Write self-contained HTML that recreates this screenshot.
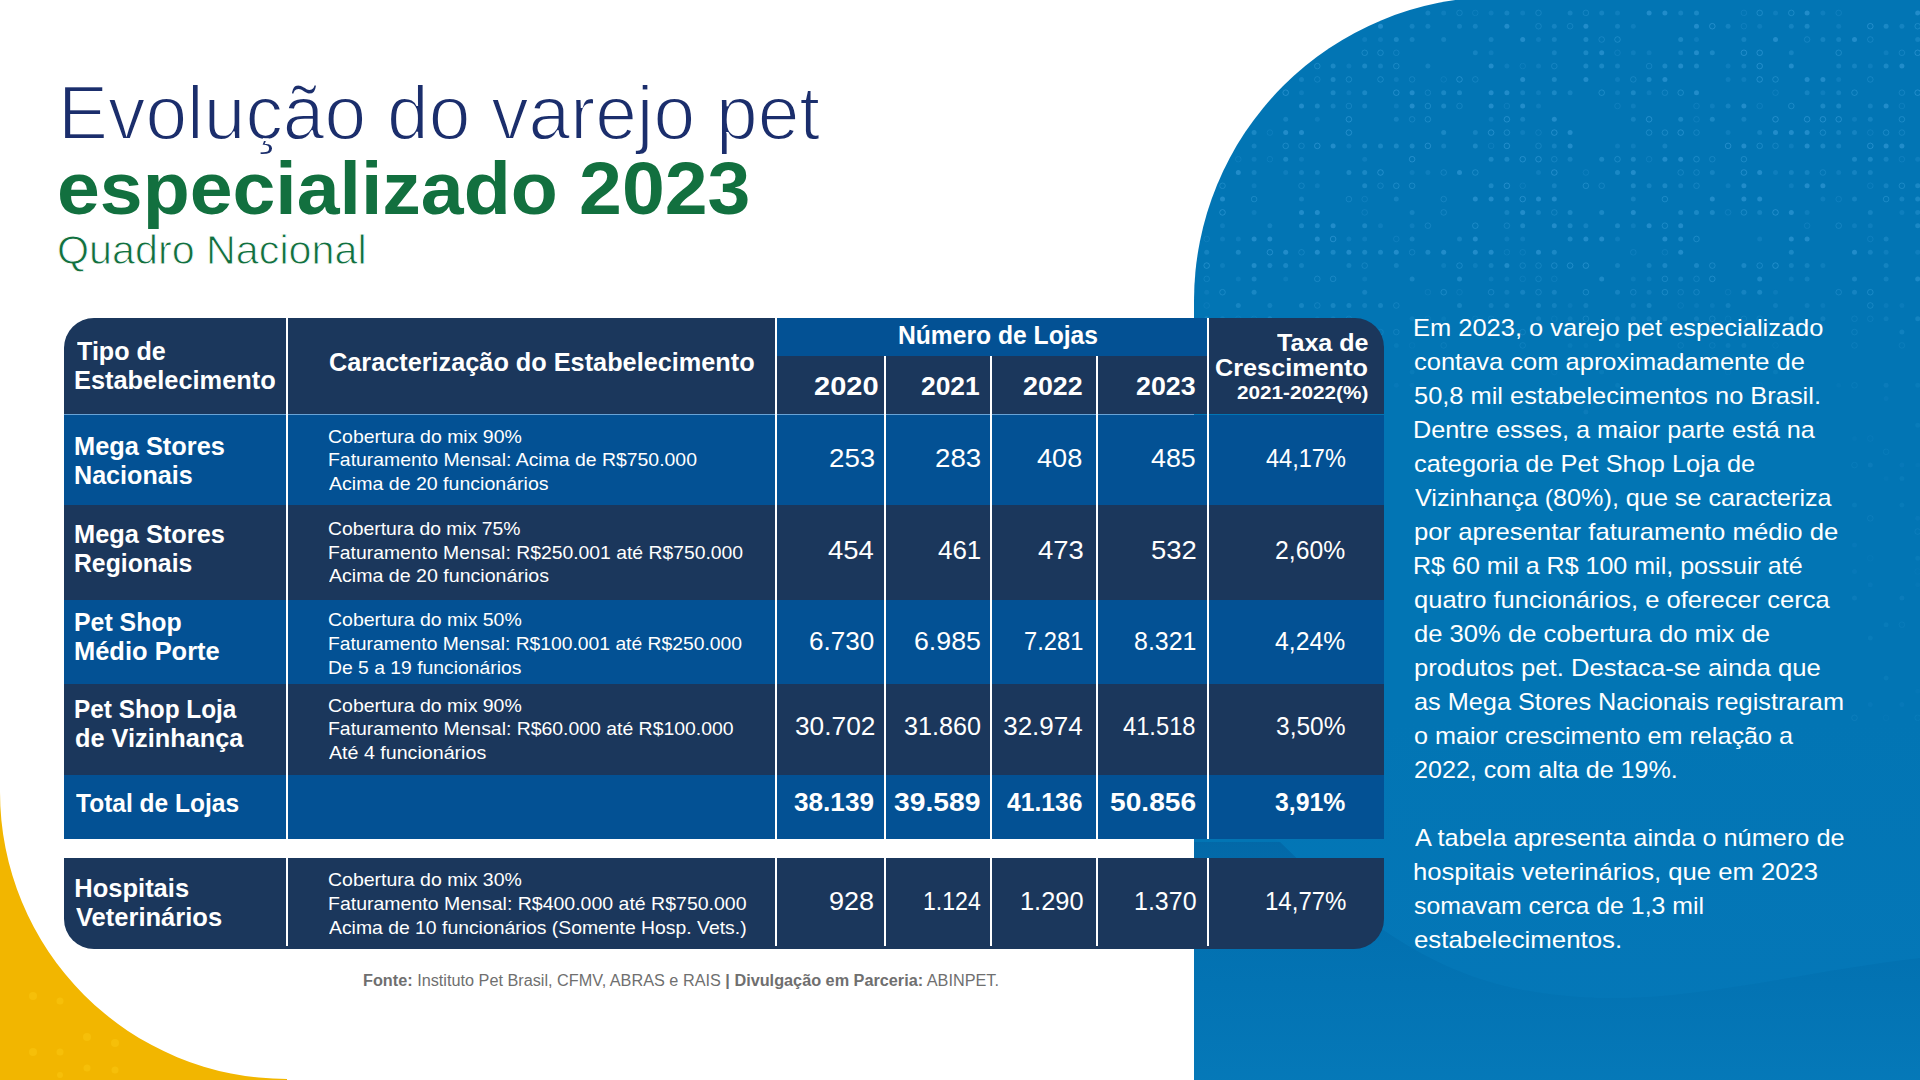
<!DOCTYPE html>
<html><head><meta charset="utf-8"><style>
html,body{margin:0;padding:0;}
body{width:1920px;height:1080px;overflow:hidden;position:relative;background:#fff;font-family:"Liberation Sans",sans-serif;}
.r{position:absolute;}
.t{position:absolute;white-space:pre;transform-origin:0 0;}
.thin{-webkit-text-stroke:1.9px #fff;}
.thinq{-webkit-text-stroke:0.9px #fff;}
.thinb{-webkit-text-stroke:1.6px #fff;}
#panel{position:absolute;left:1194px;top:-3px;width:726px;height:1083px;border-top-left-radius:304px;background:#0275b4;overflow:hidden;}
</style></head><body>
<div id="panel">
<svg class="r" style="left:0;top:0" width="726" height="1083" viewBox="1194 -3 726 1083"><circle cx="1427.9" cy="12.9" r="2.5" fill="#4fb0ea" fill-opacity="0.24"/><circle cx="1443.7" cy="12.9" r="2.5" fill="#4fb0ea" fill-opacity="0.16"/><circle cx="1459.5" cy="12.9" r="2.8" fill="none" stroke="#4fb0ea" stroke-opacity="0.24" stroke-width="1"/><circle cx="1475.3" cy="12.9" r="2.8" fill="none" stroke="#4fb0ea" stroke-opacity="0.16" stroke-width="1"/><circle cx="1491.1" cy="12.9" r="2.5" fill="#4fb0ea" fill-opacity="0.16"/><circle cx="1506.9" cy="12.9" r="2.5" fill="#4fb0ea" fill-opacity="0.24"/><circle cx="1522.7" cy="12.9" r="2.5" fill="#4fb0ea" fill-opacity="0.16"/><circle cx="1538.5" cy="12.9" r="2.8" fill="none" stroke="#4fb0ea" stroke-opacity="0.24" stroke-width="1"/><circle cx="1570.1" cy="12.9" r="2.5" fill="#4fb0ea" fill-opacity="0.24"/><circle cx="1585.9" cy="12.9" r="2.8" fill="none" stroke="#4fb0ea" stroke-opacity="0.24" stroke-width="1"/><circle cx="1601.7" cy="12.9" r="2.5" fill="#4fb0ea" fill-opacity="0.24"/><circle cx="1617.5" cy="12.9" r="2.5" fill="#4fb0ea" fill-opacity="0.16"/><circle cx="1649.1" cy="12.9" r="2.5" fill="#4fb0ea" fill-opacity="0.4"/><circle cx="1664.9" cy="12.9" r="2.5" fill="#4fb0ea" fill-opacity="0.4"/><circle cx="1680.7" cy="12.9" r="2.5" fill="#4fb0ea" fill-opacity="0.24"/><circle cx="1696.5" cy="12.9" r="2.5" fill="#4fb0ea" fill-opacity="0.32"/><circle cx="1743.9" cy="12.9" r="2.8" fill="none" stroke="#4fb0ea" stroke-opacity="0.16" stroke-width="1"/><circle cx="1759.7" cy="12.9" r="2.8" fill="none" stroke="#4fb0ea" stroke-opacity="0.32" stroke-width="1"/><circle cx="1775.5" cy="12.9" r="2.5" fill="#4fb0ea" fill-opacity="0.16"/><circle cx="1791.3" cy="12.9" r="2.8" fill="none" stroke="#4fb0ea" stroke-opacity="0.32" stroke-width="1"/><circle cx="1807.1" cy="12.9" r="2.5" fill="#4fb0ea" fill-opacity="0.4"/><circle cx="1822.9" cy="12.9" r="2.5" fill="#4fb0ea" fill-opacity="0.16"/><circle cx="1838.7" cy="12.9" r="2.8" fill="none" stroke="#4fb0ea" stroke-opacity="0.16" stroke-width="1"/><circle cx="1917.7" cy="12.9" r="2.5" fill="#4fb0ea" fill-opacity="0.4"/><circle cx="1380.5" cy="26.2" r="2.5" fill="#4fb0ea" fill-opacity="0.4"/><circle cx="1412.1" cy="26.2" r="2.5" fill="#4fb0ea" fill-opacity="0.24"/><circle cx="1427.9" cy="26.2" r="2.5" fill="#4fb0ea" fill-opacity="0.24"/><circle cx="1459.5" cy="26.2" r="2.5" fill="#4fb0ea" fill-opacity="0.24"/><circle cx="1475.3" cy="26.2" r="2.5" fill="#4fb0ea" fill-opacity="0.24"/><circle cx="1506.9" cy="26.2" r="2.5" fill="#4fb0ea" fill-opacity="0.4"/><circle cx="1538.5" cy="26.2" r="2.8" fill="none" stroke="#4fb0ea" stroke-opacity="0.24" stroke-width="1"/><circle cx="1554.3" cy="26.2" r="2.5" fill="#4fb0ea" fill-opacity="0.24"/><circle cx="1570.1" cy="26.2" r="2.8" fill="none" stroke="#4fb0ea" stroke-opacity="0.24" stroke-width="1"/><circle cx="1585.9" cy="26.2" r="2.5" fill="#4fb0ea" fill-opacity="0.4"/><circle cx="1617.5" cy="26.2" r="2.5" fill="#4fb0ea" fill-opacity="0.24"/><circle cx="1633.3" cy="26.2" r="2.5" fill="#4fb0ea" fill-opacity="0.16"/><circle cx="1696.5" cy="26.2" r="2.5" fill="#4fb0ea" fill-opacity="0.4"/><circle cx="1712.3" cy="26.2" r="2.8" fill="none" stroke="#4fb0ea" stroke-opacity="0.4" stroke-width="1"/><circle cx="1728.1" cy="26.2" r="2.5" fill="#4fb0ea" fill-opacity="0.24"/><circle cx="1743.9" cy="26.2" r="2.8" fill="none" stroke="#4fb0ea" stroke-opacity="0.16" stroke-width="1"/><circle cx="1759.7" cy="26.2" r="2.5" fill="#4fb0ea" fill-opacity="0.16"/><circle cx="1791.3" cy="26.2" r="2.5" fill="#4fb0ea" fill-opacity="0.24"/><circle cx="1807.1" cy="26.2" r="2.5" fill="#4fb0ea" fill-opacity="0.32"/><circle cx="1838.7" cy="26.2" r="2.5" fill="#4fb0ea" fill-opacity="0.16"/><circle cx="1870.3" cy="26.2" r="2.8" fill="none" stroke="#4fb0ea" stroke-opacity="0.4" stroke-width="1"/><circle cx="1886.1" cy="26.2" r="2.5" fill="#4fb0ea" fill-opacity="0.32"/><circle cx="1901.9" cy="26.2" r="2.5" fill="#4fb0ea" fill-opacity="0.24"/><circle cx="1917.7" cy="26.2" r="2.8" fill="none" stroke="#4fb0ea" stroke-opacity="0.32" stroke-width="1"/><circle cx="1364.7" cy="39.5" r="2.5" fill="#4fb0ea" fill-opacity="0.16"/><circle cx="1380.5" cy="39.5" r="2.5" fill="#4fb0ea" fill-opacity="0.16"/><circle cx="1396.3" cy="39.5" r="2.5" fill="#4fb0ea" fill-opacity="0.32"/><circle cx="1412.1" cy="39.5" r="2.5" fill="#4fb0ea" fill-opacity="0.24"/><circle cx="1443.7" cy="39.5" r="2.5" fill="#4fb0ea" fill-opacity="0.24"/><circle cx="1491.1" cy="39.5" r="2.5" fill="#4fb0ea" fill-opacity="0.24"/><circle cx="1522.7" cy="39.5" r="2.5" fill="#4fb0ea" fill-opacity="0.4"/><circle cx="1538.5" cy="39.5" r="2.5" fill="#4fb0ea" fill-opacity="0.16"/><circle cx="1554.3" cy="39.5" r="2.5" fill="#4fb0ea" fill-opacity="0.24"/><circle cx="1585.9" cy="39.5" r="2.5" fill="#4fb0ea" fill-opacity="0.32"/><circle cx="1601.7" cy="39.5" r="2.8" fill="none" stroke="#4fb0ea" stroke-opacity="0.24" stroke-width="1"/><circle cx="1617.5" cy="39.5" r="2.8" fill="none" stroke="#4fb0ea" stroke-opacity="0.32" stroke-width="1"/><circle cx="1680.7" cy="39.5" r="2.5" fill="#4fb0ea" fill-opacity="0.32"/><circle cx="1696.5" cy="39.5" r="2.5" fill="#4fb0ea" fill-opacity="0.16"/><circle cx="1743.9" cy="39.5" r="2.5" fill="#4fb0ea" fill-opacity="0.24"/><circle cx="1775.5" cy="39.5" r="2.5" fill="#4fb0ea" fill-opacity="0.4"/><circle cx="1807.1" cy="39.5" r="2.8" fill="none" stroke="#4fb0ea" stroke-opacity="0.24" stroke-width="1"/><circle cx="1822.9" cy="39.5" r="2.5" fill="#4fb0ea" fill-opacity="0.24"/><circle cx="1838.7" cy="39.5" r="2.5" fill="#4fb0ea" fill-opacity="0.24"/><circle cx="1854.5" cy="39.5" r="2.5" fill="#4fb0ea" fill-opacity="0.4"/><circle cx="1870.3" cy="39.5" r="2.8" fill="none" stroke="#4fb0ea" stroke-opacity="0.24" stroke-width="1"/><circle cx="1917.7" cy="39.5" r="2.5" fill="#4fb0ea" fill-opacity="0.24"/><circle cx="1364.7" cy="52.8" r="2.8" fill="none" stroke="#4fb0ea" stroke-opacity="0.32" stroke-width="1"/><circle cx="1380.5" cy="52.8" r="2.8" fill="none" stroke="#4fb0ea" stroke-opacity="0.32" stroke-width="1"/><circle cx="1396.3" cy="52.8" r="2.8" fill="none" stroke="#4fb0ea" stroke-opacity="0.24" stroke-width="1"/><circle cx="1475.3" cy="52.8" r="2.5" fill="#4fb0ea" fill-opacity="0.24"/><circle cx="1491.1" cy="52.8" r="2.5" fill="#4fb0ea" fill-opacity="0.16"/><circle cx="1554.3" cy="52.8" r="2.5" fill="#4fb0ea" fill-opacity="0.24"/><circle cx="1585.9" cy="52.8" r="2.5" fill="#4fb0ea" fill-opacity="0.32"/><circle cx="1601.7" cy="52.8" r="2.5" fill="#4fb0ea" fill-opacity="0.4"/><circle cx="1617.5" cy="52.8" r="2.8" fill="none" stroke="#4fb0ea" stroke-opacity="0.16" stroke-width="1"/><circle cx="1633.3" cy="52.8" r="2.5" fill="#4fb0ea" fill-opacity="0.16"/><circle cx="1649.1" cy="52.8" r="2.5" fill="#4fb0ea" fill-opacity="0.16"/><circle cx="1680.7" cy="52.8" r="2.5" fill="#4fb0ea" fill-opacity="0.24"/><circle cx="1696.5" cy="52.8" r="2.5" fill="#4fb0ea" fill-opacity="0.4"/><circle cx="1712.3" cy="52.8" r="2.5" fill="#4fb0ea" fill-opacity="0.32"/><circle cx="1743.9" cy="52.8" r="2.8" fill="none" stroke="#4fb0ea" stroke-opacity="0.4" stroke-width="1"/><circle cx="1759.7" cy="52.8" r="2.8" fill="none" stroke="#4fb0ea" stroke-opacity="0.4" stroke-width="1"/><circle cx="1791.3" cy="52.8" r="2.5" fill="#4fb0ea" fill-opacity="0.24"/><circle cx="1838.7" cy="52.8" r="2.8" fill="none" stroke="#4fb0ea" stroke-opacity="0.32" stroke-width="1"/><circle cx="1886.1" cy="52.8" r="2.5" fill="#4fb0ea" fill-opacity="0.16"/><circle cx="1901.9" cy="52.8" r="2.8" fill="none" stroke="#4fb0ea" stroke-opacity="0.24" stroke-width="1"/><circle cx="1917.7" cy="52.8" r="2.8" fill="none" stroke="#4fb0ea" stroke-opacity="0.4" stroke-width="1"/><circle cx="1317.3" cy="66.1" r="2.8" fill="none" stroke="#4fb0ea" stroke-opacity="0.32" stroke-width="1"/><circle cx="1333.1" cy="66.1" r="2.5" fill="#4fb0ea" fill-opacity="0.32"/><circle cx="1348.9" cy="66.1" r="2.5" fill="#4fb0ea" fill-opacity="0.16"/><circle cx="1364.7" cy="66.1" r="2.5" fill="#4fb0ea" fill-opacity="0.32"/><circle cx="1380.5" cy="66.1" r="2.5" fill="#4fb0ea" fill-opacity="0.24"/><circle cx="1396.3" cy="66.1" r="2.8" fill="none" stroke="#4fb0ea" stroke-opacity="0.32" stroke-width="1"/><circle cx="1427.9" cy="66.1" r="2.5" fill="#4fb0ea" fill-opacity="0.24"/><circle cx="1491.1" cy="66.1" r="2.5" fill="#4fb0ea" fill-opacity="0.4"/><circle cx="1506.9" cy="66.1" r="2.5" fill="#4fb0ea" fill-opacity="0.16"/><circle cx="1522.7" cy="66.1" r="2.8" fill="none" stroke="#4fb0ea" stroke-opacity="0.16" stroke-width="1"/><circle cx="1538.5" cy="66.1" r="2.5" fill="#4fb0ea" fill-opacity="0.16"/><circle cx="1554.3" cy="66.1" r="2.8" fill="none" stroke="#4fb0ea" stroke-opacity="0.24" stroke-width="1"/><circle cx="1585.9" cy="66.1" r="2.5" fill="#4fb0ea" fill-opacity="0.32"/><circle cx="1601.7" cy="66.1" r="2.5" fill="#4fb0ea" fill-opacity="0.32"/><circle cx="1617.5" cy="66.1" r="2.5" fill="#4fb0ea" fill-opacity="0.24"/><circle cx="1649.1" cy="66.1" r="2.8" fill="none" stroke="#4fb0ea" stroke-opacity="0.24" stroke-width="1"/><circle cx="1664.9" cy="66.1" r="2.5" fill="#4fb0ea" fill-opacity="0.32"/><circle cx="1680.7" cy="66.1" r="2.5" fill="#4fb0ea" fill-opacity="0.4"/><circle cx="1696.5" cy="66.1" r="2.5" fill="#4fb0ea" fill-opacity="0.32"/><circle cx="1728.1" cy="66.1" r="2.5" fill="#4fb0ea" fill-opacity="0.16"/><circle cx="1743.9" cy="66.1" r="2.5" fill="#4fb0ea" fill-opacity="0.24"/><circle cx="1759.7" cy="66.1" r="2.8" fill="none" stroke="#4fb0ea" stroke-opacity="0.4" stroke-width="1"/><circle cx="1791.3" cy="66.1" r="2.5" fill="#4fb0ea" fill-opacity="0.4"/><circle cx="1838.7" cy="66.1" r="2.5" fill="#4fb0ea" fill-opacity="0.24"/><circle cx="1854.5" cy="66.1" r="2.5" fill="#4fb0ea" fill-opacity="0.24"/><circle cx="1870.3" cy="66.1" r="2.5" fill="#4fb0ea" fill-opacity="0.16"/><circle cx="1886.1" cy="66.1" r="2.5" fill="#4fb0ea" fill-opacity="0.32"/><circle cx="1901.9" cy="66.1" r="2.5" fill="#4fb0ea" fill-opacity="0.4"/><circle cx="1301.5" cy="79.4" r="2.5" fill="#4fb0ea" fill-opacity="0.24"/><circle cx="1317.3" cy="79.4" r="2.8" fill="none" stroke="#4fb0ea" stroke-opacity="0.24" stroke-width="1"/><circle cx="1333.1" cy="79.4" r="2.5" fill="#4fb0ea" fill-opacity="0.32"/><circle cx="1348.9" cy="79.4" r="2.8" fill="none" stroke="#4fb0ea" stroke-opacity="0.32" stroke-width="1"/><circle cx="1380.5" cy="79.4" r="2.8" fill="none" stroke="#4fb0ea" stroke-opacity="0.32" stroke-width="1"/><circle cx="1396.3" cy="79.4" r="2.5" fill="#4fb0ea" fill-opacity="0.16"/><circle cx="1412.1" cy="79.4" r="2.8" fill="none" stroke="#4fb0ea" stroke-opacity="0.24" stroke-width="1"/><circle cx="1443.7" cy="79.4" r="2.8" fill="none" stroke="#4fb0ea" stroke-opacity="0.16" stroke-width="1"/><circle cx="1459.5" cy="79.4" r="2.8" fill="none" stroke="#4fb0ea" stroke-opacity="0.4" stroke-width="1"/><circle cx="1475.3" cy="79.4" r="2.8" fill="none" stroke="#4fb0ea" stroke-opacity="0.24" stroke-width="1"/><circle cx="1522.7" cy="79.4" r="2.5" fill="#4fb0ea" fill-opacity="0.4"/><circle cx="1554.3" cy="79.4" r="2.5" fill="#4fb0ea" fill-opacity="0.32"/><circle cx="1585.9" cy="79.4" r="2.5" fill="#4fb0ea" fill-opacity="0.4"/><circle cx="1617.5" cy="79.4" r="2.5" fill="#4fb0ea" fill-opacity="0.16"/><circle cx="1633.3" cy="79.4" r="2.8" fill="none" stroke="#4fb0ea" stroke-opacity="0.24" stroke-width="1"/><circle cx="1649.1" cy="79.4" r="2.5" fill="#4fb0ea" fill-opacity="0.32"/><circle cx="1664.9" cy="79.4" r="2.5" fill="#4fb0ea" fill-opacity="0.4"/><circle cx="1728.1" cy="79.4" r="2.5" fill="#4fb0ea" fill-opacity="0.16"/><circle cx="1743.9" cy="79.4" r="2.5" fill="#4fb0ea" fill-opacity="0.16"/><circle cx="1759.7" cy="79.4" r="2.8" fill="none" stroke="#4fb0ea" stroke-opacity="0.4" stroke-width="1"/><circle cx="1775.5" cy="79.4" r="2.8" fill="none" stroke="#4fb0ea" stroke-opacity="0.32" stroke-width="1"/><circle cx="1807.1" cy="79.4" r="2.5" fill="#4fb0ea" fill-opacity="0.4"/><circle cx="1822.9" cy="79.4" r="2.5" fill="#4fb0ea" fill-opacity="0.4"/><circle cx="1838.7" cy="79.4" r="2.5" fill="#4fb0ea" fill-opacity="0.16"/><circle cx="1870.3" cy="79.4" r="2.8" fill="none" stroke="#4fb0ea" stroke-opacity="0.24" stroke-width="1"/><circle cx="1285.7" cy="92.7" r="2.8" fill="none" stroke="#4fb0ea" stroke-opacity="0.4" stroke-width="1"/><circle cx="1301.5" cy="92.7" r="2.5" fill="#4fb0ea" fill-opacity="0.16"/><circle cx="1333.1" cy="92.7" r="2.5" fill="#4fb0ea" fill-opacity="0.32"/><circle cx="1348.9" cy="92.7" r="2.5" fill="#4fb0ea" fill-opacity="0.16"/><circle cx="1364.7" cy="92.7" r="2.5" fill="#4fb0ea" fill-opacity="0.32"/><circle cx="1396.3" cy="92.7" r="2.8" fill="none" stroke="#4fb0ea" stroke-opacity="0.4" stroke-width="1"/><circle cx="1412.1" cy="92.7" r="2.5" fill="#4fb0ea" fill-opacity="0.4"/><circle cx="1427.9" cy="92.7" r="2.8" fill="none" stroke="#4fb0ea" stroke-opacity="0.24" stroke-width="1"/><circle cx="1443.7" cy="92.7" r="2.5" fill="#4fb0ea" fill-opacity="0.32"/><circle cx="1459.5" cy="92.7" r="2.5" fill="#4fb0ea" fill-opacity="0.32"/><circle cx="1491.1" cy="92.7" r="2.5" fill="#4fb0ea" fill-opacity="0.4"/><circle cx="1506.9" cy="92.7" r="2.5" fill="#4fb0ea" fill-opacity="0.4"/><circle cx="1522.7" cy="92.7" r="2.5" fill="#4fb0ea" fill-opacity="0.24"/><circle cx="1538.5" cy="92.7" r="2.5" fill="#4fb0ea" fill-opacity="0.16"/><circle cx="1554.3" cy="92.7" r="2.5" fill="#4fb0ea" fill-opacity="0.32"/><circle cx="1570.1" cy="92.7" r="2.5" fill="#4fb0ea" fill-opacity="0.24"/><circle cx="1601.7" cy="92.7" r="2.8" fill="none" stroke="#4fb0ea" stroke-opacity="0.32" stroke-width="1"/><circle cx="1617.5" cy="92.7" r="2.5" fill="#4fb0ea" fill-opacity="0.16"/><circle cx="1633.3" cy="92.7" r="2.5" fill="#4fb0ea" fill-opacity="0.32"/><circle cx="1649.1" cy="92.7" r="2.5" fill="#4fb0ea" fill-opacity="0.16"/><circle cx="1664.9" cy="92.7" r="2.8" fill="none" stroke="#4fb0ea" stroke-opacity="0.24" stroke-width="1"/><circle cx="1680.7" cy="92.7" r="2.8" fill="none" stroke="#4fb0ea" stroke-opacity="0.32" stroke-width="1"/><circle cx="1696.5" cy="92.7" r="2.5" fill="#4fb0ea" fill-opacity="0.4"/><circle cx="1775.5" cy="92.7" r="2.8" fill="none" stroke="#4fb0ea" stroke-opacity="0.16" stroke-width="1"/><circle cx="1807.1" cy="92.7" r="2.5" fill="#4fb0ea" fill-opacity="0.24"/><circle cx="1822.9" cy="92.7" r="2.5" fill="#4fb0ea" fill-opacity="0.16"/><circle cx="1838.7" cy="92.7" r="2.5" fill="#4fb0ea" fill-opacity="0.24"/><circle cx="1854.5" cy="92.7" r="2.8" fill="none" stroke="#4fb0ea" stroke-opacity="0.32" stroke-width="1"/><circle cx="1901.9" cy="92.7" r="2.8" fill="none" stroke="#4fb0ea" stroke-opacity="0.24" stroke-width="1"/><circle cx="1917.7" cy="92.7" r="2.8" fill="none" stroke="#4fb0ea" stroke-opacity="0.4" stroke-width="1"/><circle cx="1301.5" cy="106.0" r="2.5" fill="#4fb0ea" fill-opacity="0.4"/><circle cx="1317.3" cy="106.0" r="2.5" fill="#4fb0ea" fill-opacity="0.32"/><circle cx="1333.1" cy="106.0" r="2.5" fill="#4fb0ea" fill-opacity="0.24"/><circle cx="1348.9" cy="106.0" r="2.8" fill="none" stroke="#4fb0ea" stroke-opacity="0.24" stroke-width="1"/><circle cx="1364.7" cy="106.0" r="2.5" fill="#4fb0ea" fill-opacity="0.24"/><circle cx="1396.3" cy="106.0" r="2.5" fill="#4fb0ea" fill-opacity="0.16"/><circle cx="1412.1" cy="106.0" r="2.5" fill="#4fb0ea" fill-opacity="0.4"/><circle cx="1427.9" cy="106.0" r="2.8" fill="none" stroke="#4fb0ea" stroke-opacity="0.32" stroke-width="1"/><circle cx="1443.7" cy="106.0" r="2.5" fill="#4fb0ea" fill-opacity="0.32"/><circle cx="1459.5" cy="106.0" r="2.8" fill="none" stroke="#4fb0ea" stroke-opacity="0.24" stroke-width="1"/><circle cx="1491.1" cy="106.0" r="2.5" fill="#4fb0ea" fill-opacity="0.4"/><circle cx="1506.9" cy="106.0" r="2.8" fill="none" stroke="#4fb0ea" stroke-opacity="0.16" stroke-width="1"/><circle cx="1522.7" cy="106.0" r="2.5" fill="#4fb0ea" fill-opacity="0.4"/><circle cx="1538.5" cy="106.0" r="2.5" fill="#4fb0ea" fill-opacity="0.16"/><circle cx="1617.5" cy="106.0" r="2.8" fill="none" stroke="#4fb0ea" stroke-opacity="0.16" stroke-width="1"/><circle cx="1633.3" cy="106.0" r="2.5" fill="#4fb0ea" fill-opacity="0.16"/><circle cx="1696.5" cy="106.0" r="2.8" fill="none" stroke="#4fb0ea" stroke-opacity="0.16" stroke-width="1"/><circle cx="1712.3" cy="106.0" r="2.5" fill="#4fb0ea" fill-opacity="0.16"/><circle cx="1728.1" cy="106.0" r="2.5" fill="#4fb0ea" fill-opacity="0.24"/><circle cx="1743.9" cy="106.0" r="2.5" fill="#4fb0ea" fill-opacity="0.4"/><circle cx="1759.7" cy="106.0" r="2.8" fill="none" stroke="#4fb0ea" stroke-opacity="0.16" stroke-width="1"/><circle cx="1791.3" cy="106.0" r="2.8" fill="none" stroke="#4fb0ea" stroke-opacity="0.32" stroke-width="1"/><circle cx="1822.9" cy="106.0" r="2.5" fill="#4fb0ea" fill-opacity="0.32"/><circle cx="1838.7" cy="106.0" r="2.5" fill="#4fb0ea" fill-opacity="0.32"/><circle cx="1870.3" cy="106.0" r="2.5" fill="#4fb0ea" fill-opacity="0.24"/><circle cx="1886.1" cy="106.0" r="2.5" fill="#4fb0ea" fill-opacity="0.4"/><circle cx="1901.9" cy="106.0" r="2.8" fill="none" stroke="#4fb0ea" stroke-opacity="0.16" stroke-width="1"/><circle cx="1285.7" cy="119.3" r="2.5" fill="#4fb0ea" fill-opacity="0.24"/><circle cx="1317.3" cy="119.3" r="2.5" fill="#4fb0ea" fill-opacity="0.16"/><circle cx="1348.9" cy="119.3" r="2.8" fill="none" stroke="#4fb0ea" stroke-opacity="0.4" stroke-width="1"/><circle cx="1396.3" cy="119.3" r="2.5" fill="#4fb0ea" fill-opacity="0.24"/><circle cx="1412.1" cy="119.3" r="2.8" fill="none" stroke="#4fb0ea" stroke-opacity="0.24" stroke-width="1"/><circle cx="1427.9" cy="119.3" r="2.8" fill="none" stroke="#4fb0ea" stroke-opacity="0.32" stroke-width="1"/><circle cx="1491.1" cy="119.3" r="2.5" fill="#4fb0ea" fill-opacity="0.16"/><circle cx="1506.9" cy="119.3" r="2.8" fill="none" stroke="#4fb0ea" stroke-opacity="0.4" stroke-width="1"/><circle cx="1522.7" cy="119.3" r="2.5" fill="#4fb0ea" fill-opacity="0.24"/><circle cx="1554.3" cy="119.3" r="2.5" fill="#4fb0ea" fill-opacity="0.4"/><circle cx="1633.3" cy="119.3" r="2.5" fill="#4fb0ea" fill-opacity="0.24"/><circle cx="1649.1" cy="119.3" r="2.8" fill="none" stroke="#4fb0ea" stroke-opacity="0.4" stroke-width="1"/><circle cx="1680.7" cy="119.3" r="2.5" fill="#4fb0ea" fill-opacity="0.32"/><circle cx="1696.5" cy="119.3" r="2.8" fill="none" stroke="#4fb0ea" stroke-opacity="0.16" stroke-width="1"/><circle cx="1712.3" cy="119.3" r="2.5" fill="#4fb0ea" fill-opacity="0.32"/><circle cx="1743.9" cy="119.3" r="2.5" fill="#4fb0ea" fill-opacity="0.24"/><circle cx="1775.5" cy="119.3" r="2.8" fill="none" stroke="#4fb0ea" stroke-opacity="0.4" stroke-width="1"/><circle cx="1807.1" cy="119.3" r="2.8" fill="none" stroke="#4fb0ea" stroke-opacity="0.4" stroke-width="1"/><circle cx="1822.9" cy="119.3" r="2.8" fill="none" stroke="#4fb0ea" stroke-opacity="0.4" stroke-width="1"/><circle cx="1838.7" cy="119.3" r="2.8" fill="none" stroke="#4fb0ea" stroke-opacity="0.4" stroke-width="1"/><circle cx="1854.5" cy="119.3" r="2.5" fill="#4fb0ea" fill-opacity="0.16"/><circle cx="1870.3" cy="119.3" r="2.5" fill="#4fb0ea" fill-opacity="0.24"/><circle cx="1901.9" cy="119.3" r="2.8" fill="none" stroke="#4fb0ea" stroke-opacity="0.32" stroke-width="1"/><circle cx="1254.1" cy="132.6" r="2.5" fill="#4fb0ea" fill-opacity="0.32"/><circle cx="1269.9" cy="132.6" r="2.8" fill="none" stroke="#4fb0ea" stroke-opacity="0.16" stroke-width="1"/><circle cx="1285.7" cy="132.6" r="2.5" fill="#4fb0ea" fill-opacity="0.4"/><circle cx="1301.5" cy="132.6" r="2.5" fill="#4fb0ea" fill-opacity="0.4"/><circle cx="1348.9" cy="132.6" r="2.8" fill="none" stroke="#4fb0ea" stroke-opacity="0.4" stroke-width="1"/><circle cx="1443.7" cy="132.6" r="2.5" fill="#4fb0ea" fill-opacity="0.32"/><circle cx="1475.3" cy="132.6" r="2.5" fill="#4fb0ea" fill-opacity="0.24"/><circle cx="1491.1" cy="132.6" r="2.8" fill="none" stroke="#4fb0ea" stroke-opacity="0.4" stroke-width="1"/><circle cx="1506.9" cy="132.6" r="2.8" fill="none" stroke="#4fb0ea" stroke-opacity="0.32" stroke-width="1"/><circle cx="1522.7" cy="132.6" r="2.5" fill="#4fb0ea" fill-opacity="0.16"/><circle cx="1538.5" cy="132.6" r="2.8" fill="none" stroke="#4fb0ea" stroke-opacity="0.16" stroke-width="1"/><circle cx="1554.3" cy="132.6" r="2.8" fill="none" stroke="#4fb0ea" stroke-opacity="0.4" stroke-width="1"/><circle cx="1570.1" cy="132.6" r="2.5" fill="#4fb0ea" fill-opacity="0.4"/><circle cx="1649.1" cy="132.6" r="2.8" fill="none" stroke="#4fb0ea" stroke-opacity="0.32" stroke-width="1"/><circle cx="1664.9" cy="132.6" r="2.8" fill="none" stroke="#4fb0ea" stroke-opacity="0.32" stroke-width="1"/><circle cx="1680.7" cy="132.6" r="2.8" fill="none" stroke="#4fb0ea" stroke-opacity="0.4" stroke-width="1"/><circle cx="1696.5" cy="132.6" r="2.8" fill="none" stroke="#4fb0ea" stroke-opacity="0.24" stroke-width="1"/><circle cx="1728.1" cy="132.6" r="2.5" fill="#4fb0ea" fill-opacity="0.16"/><circle cx="1759.7" cy="132.6" r="2.5" fill="#4fb0ea" fill-opacity="0.24"/><circle cx="1775.5" cy="132.6" r="2.5" fill="#4fb0ea" fill-opacity="0.4"/><circle cx="1791.3" cy="132.6" r="2.5" fill="#4fb0ea" fill-opacity="0.4"/><circle cx="1807.1" cy="132.6" r="2.5" fill="#4fb0ea" fill-opacity="0.4"/><circle cx="1822.9" cy="132.6" r="2.8" fill="none" stroke="#4fb0ea" stroke-opacity="0.32" stroke-width="1"/><circle cx="1838.7" cy="132.6" r="2.5" fill="#4fb0ea" fill-opacity="0.24"/><circle cx="1854.5" cy="132.6" r="2.5" fill="#4fb0ea" fill-opacity="0.24"/><circle cx="1870.3" cy="132.6" r="2.8" fill="none" stroke="#4fb0ea" stroke-opacity="0.16" stroke-width="1"/><circle cx="1886.1" cy="132.6" r="2.8" fill="none" stroke="#4fb0ea" stroke-opacity="0.32" stroke-width="1"/><circle cx="1901.9" cy="132.6" r="2.8" fill="none" stroke="#4fb0ea" stroke-opacity="0.24" stroke-width="1"/><circle cx="1254.1" cy="145.9" r="2.5" fill="#4fb0ea" fill-opacity="0.24"/><circle cx="1285.7" cy="145.9" r="2.8" fill="none" stroke="#4fb0ea" stroke-opacity="0.32" stroke-width="1"/><circle cx="1301.5" cy="145.9" r="2.8" fill="none" stroke="#4fb0ea" stroke-opacity="0.24" stroke-width="1"/><circle cx="1317.3" cy="145.9" r="2.8" fill="none" stroke="#4fb0ea" stroke-opacity="0.4" stroke-width="1"/><circle cx="1333.1" cy="145.9" r="2.5" fill="#4fb0ea" fill-opacity="0.4"/><circle cx="1348.9" cy="145.9" r="2.5" fill="#4fb0ea" fill-opacity="0.16"/><circle cx="1364.7" cy="145.9" r="2.5" fill="#4fb0ea" fill-opacity="0.32"/><circle cx="1380.5" cy="145.9" r="2.5" fill="#4fb0ea" fill-opacity="0.32"/><circle cx="1396.3" cy="145.9" r="2.5" fill="#4fb0ea" fill-opacity="0.32"/><circle cx="1412.1" cy="145.9" r="2.5" fill="#4fb0ea" fill-opacity="0.32"/><circle cx="1427.9" cy="145.9" r="2.8" fill="none" stroke="#4fb0ea" stroke-opacity="0.4" stroke-width="1"/><circle cx="1443.7" cy="145.9" r="2.5" fill="#4fb0ea" fill-opacity="0.24"/><circle cx="1475.3" cy="145.9" r="2.5" fill="#4fb0ea" fill-opacity="0.32"/><circle cx="1491.1" cy="145.9" r="2.8" fill="none" stroke="#4fb0ea" stroke-opacity="0.16" stroke-width="1"/><circle cx="1506.9" cy="145.9" r="2.8" fill="none" stroke="#4fb0ea" stroke-opacity="0.4" stroke-width="1"/><circle cx="1538.5" cy="145.9" r="2.8" fill="none" stroke="#4fb0ea" stroke-opacity="0.24" stroke-width="1"/><circle cx="1554.3" cy="145.9" r="2.5" fill="#4fb0ea" fill-opacity="0.24"/><circle cx="1570.1" cy="145.9" r="2.5" fill="#4fb0ea" fill-opacity="0.4"/><circle cx="1617.5" cy="145.9" r="2.5" fill="#4fb0ea" fill-opacity="0.16"/><circle cx="1633.3" cy="145.9" r="2.5" fill="#4fb0ea" fill-opacity="0.16"/><circle cx="1664.9" cy="145.9" r="2.5" fill="#4fb0ea" fill-opacity="0.24"/><circle cx="1728.1" cy="145.9" r="2.8" fill="none" stroke="#4fb0ea" stroke-opacity="0.4" stroke-width="1"/><circle cx="1743.9" cy="145.9" r="2.5" fill="#4fb0ea" fill-opacity="0.4"/><circle cx="1759.7" cy="145.9" r="2.8" fill="none" stroke="#4fb0ea" stroke-opacity="0.32" stroke-width="1"/><circle cx="1775.5" cy="145.9" r="2.8" fill="none" stroke="#4fb0ea" stroke-opacity="0.24" stroke-width="1"/><circle cx="1791.3" cy="145.9" r="2.5" fill="#4fb0ea" fill-opacity="0.16"/><circle cx="1807.1" cy="145.9" r="2.5" fill="#4fb0ea" fill-opacity="0.4"/><circle cx="1822.9" cy="145.9" r="2.5" fill="#4fb0ea" fill-opacity="0.32"/><circle cx="1838.7" cy="145.9" r="2.5" fill="#4fb0ea" fill-opacity="0.24"/><circle cx="1870.3" cy="145.9" r="2.8" fill="none" stroke="#4fb0ea" stroke-opacity="0.4" stroke-width="1"/><circle cx="1886.1" cy="145.9" r="2.5" fill="#4fb0ea" fill-opacity="0.4"/><circle cx="1901.9" cy="145.9" r="2.5" fill="#4fb0ea" fill-opacity="0.4"/><circle cx="1238.3" cy="159.2" r="2.8" fill="none" stroke="#4fb0ea" stroke-opacity="0.16" stroke-width="1"/><circle cx="1254.1" cy="159.2" r="2.5" fill="#4fb0ea" fill-opacity="0.16"/><circle cx="1269.9" cy="159.2" r="2.8" fill="none" stroke="#4fb0ea" stroke-opacity="0.16" stroke-width="1"/><circle cx="1285.7" cy="159.2" r="2.5" fill="#4fb0ea" fill-opacity="0.32"/><circle cx="1301.5" cy="159.2" r="2.5" fill="#4fb0ea" fill-opacity="0.16"/><circle cx="1364.7" cy="159.2" r="2.5" fill="#4fb0ea" fill-opacity="0.16"/><circle cx="1412.1" cy="159.2" r="2.8" fill="none" stroke="#4fb0ea" stroke-opacity="0.4" stroke-width="1"/><circle cx="1491.1" cy="159.2" r="2.5" fill="#4fb0ea" fill-opacity="0.32"/><circle cx="1506.9" cy="159.2" r="2.5" fill="#4fb0ea" fill-opacity="0.32"/><circle cx="1522.7" cy="159.2" r="2.8" fill="none" stroke="#4fb0ea" stroke-opacity="0.4" stroke-width="1"/><circle cx="1538.5" cy="159.2" r="2.8" fill="none" stroke="#4fb0ea" stroke-opacity="0.4" stroke-width="1"/><circle cx="1554.3" cy="159.2" r="2.8" fill="none" stroke="#4fb0ea" stroke-opacity="0.24" stroke-width="1"/><circle cx="1570.1" cy="159.2" r="2.5" fill="#4fb0ea" fill-opacity="0.24"/><circle cx="1601.7" cy="159.2" r="2.5" fill="#4fb0ea" fill-opacity="0.32"/><circle cx="1617.5" cy="159.2" r="2.8" fill="none" stroke="#4fb0ea" stroke-opacity="0.32" stroke-width="1"/><circle cx="1633.3" cy="159.2" r="2.5" fill="#4fb0ea" fill-opacity="0.32"/><circle cx="1649.1" cy="159.2" r="2.8" fill="none" stroke="#4fb0ea" stroke-opacity="0.16" stroke-width="1"/><circle cx="1664.9" cy="159.2" r="2.5" fill="#4fb0ea" fill-opacity="0.4"/><circle cx="1680.7" cy="159.2" r="2.5" fill="#4fb0ea" fill-opacity="0.4"/><circle cx="1696.5" cy="159.2" r="2.8" fill="none" stroke="#4fb0ea" stroke-opacity="0.32" stroke-width="1"/><circle cx="1712.3" cy="159.2" r="2.8" fill="none" stroke="#4fb0ea" stroke-opacity="0.24" stroke-width="1"/><circle cx="1743.9" cy="159.2" r="2.8" fill="none" stroke="#4fb0ea" stroke-opacity="0.32" stroke-width="1"/><circle cx="1854.5" cy="159.2" r="2.5" fill="#4fb0ea" fill-opacity="0.32"/><circle cx="1870.3" cy="159.2" r="2.5" fill="#4fb0ea" fill-opacity="0.32"/><circle cx="1886.1" cy="159.2" r="2.5" fill="#4fb0ea" fill-opacity="0.24"/><circle cx="1901.9" cy="159.2" r="2.8" fill="none" stroke="#4fb0ea" stroke-opacity="0.16" stroke-width="1"/><circle cx="1917.7" cy="159.2" r="2.5" fill="#4fb0ea" fill-opacity="0.16"/><circle cx="1238.3" cy="172.5" r="2.5" fill="#4fb0ea" fill-opacity="0.4"/><circle cx="1254.1" cy="172.5" r="2.5" fill="#4fb0ea" fill-opacity="0.24"/><circle cx="1285.7" cy="172.5" r="2.5" fill="#4fb0ea" fill-opacity="0.16"/><circle cx="1301.5" cy="172.5" r="2.5" fill="#4fb0ea" fill-opacity="0.24"/><circle cx="1317.3" cy="172.5" r="2.5" fill="#4fb0ea" fill-opacity="0.24"/><circle cx="1348.9" cy="172.5" r="2.5" fill="#4fb0ea" fill-opacity="0.32"/><circle cx="1364.7" cy="172.5" r="2.5" fill="#4fb0ea" fill-opacity="0.32"/><circle cx="1380.5" cy="172.5" r="2.8" fill="none" stroke="#4fb0ea" stroke-opacity="0.4" stroke-width="1"/><circle cx="1412.1" cy="172.5" r="2.5" fill="#4fb0ea" fill-opacity="0.16"/><circle cx="1427.9" cy="172.5" r="2.5" fill="#4fb0ea" fill-opacity="0.16"/><circle cx="1443.7" cy="172.5" r="2.8" fill="none" stroke="#4fb0ea" stroke-opacity="0.24" stroke-width="1"/><circle cx="1459.5" cy="172.5" r="2.5" fill="#4fb0ea" fill-opacity="0.4"/><circle cx="1475.3" cy="172.5" r="2.8" fill="none" stroke="#4fb0ea" stroke-opacity="0.32" stroke-width="1"/><circle cx="1538.5" cy="172.5" r="2.5" fill="#4fb0ea" fill-opacity="0.16"/><circle cx="1554.3" cy="172.5" r="2.8" fill="none" stroke="#4fb0ea" stroke-opacity="0.4" stroke-width="1"/><circle cx="1585.9" cy="172.5" r="2.8" fill="none" stroke="#4fb0ea" stroke-opacity="0.16" stroke-width="1"/><circle cx="1617.5" cy="172.5" r="2.5" fill="#4fb0ea" fill-opacity="0.32"/><circle cx="1633.3" cy="172.5" r="2.5" fill="#4fb0ea" fill-opacity="0.4"/><circle cx="1680.7" cy="172.5" r="2.8" fill="none" stroke="#4fb0ea" stroke-opacity="0.24" stroke-width="1"/><circle cx="1696.5" cy="172.5" r="2.8" fill="none" stroke="#4fb0ea" stroke-opacity="0.24" stroke-width="1"/><circle cx="1712.3" cy="172.5" r="2.5" fill="#4fb0ea" fill-opacity="0.24"/><circle cx="1743.9" cy="172.5" r="2.8" fill="none" stroke="#4fb0ea" stroke-opacity="0.4" stroke-width="1"/><circle cx="1759.7" cy="172.5" r="2.5" fill="#4fb0ea" fill-opacity="0.4"/><circle cx="1775.5" cy="172.5" r="2.5" fill="#4fb0ea" fill-opacity="0.16"/><circle cx="1791.3" cy="172.5" r="2.5" fill="#4fb0ea" fill-opacity="0.24"/><circle cx="1807.1" cy="172.5" r="2.5" fill="#4fb0ea" fill-opacity="0.24"/><circle cx="1822.9" cy="172.5" r="2.8" fill="none" stroke="#4fb0ea" stroke-opacity="0.24" stroke-width="1"/><circle cx="1838.7" cy="172.5" r="2.5" fill="#4fb0ea" fill-opacity="0.16"/><circle cx="1854.5" cy="172.5" r="2.5" fill="#4fb0ea" fill-opacity="0.24"/><circle cx="1870.3" cy="172.5" r="2.5" fill="#4fb0ea" fill-opacity="0.24"/><circle cx="1222.5" cy="185.8" r="2.8" fill="none" stroke="#4fb0ea" stroke-opacity="0.32" stroke-width="1"/><circle cx="1254.1" cy="185.8" r="2.5" fill="#4fb0ea" fill-opacity="0.16"/><circle cx="1301.5" cy="185.8" r="2.8" fill="none" stroke="#4fb0ea" stroke-opacity="0.24" stroke-width="1"/><circle cx="1317.3" cy="185.8" r="2.5" fill="#4fb0ea" fill-opacity="0.16"/><circle cx="1364.7" cy="185.8" r="2.5" fill="#4fb0ea" fill-opacity="0.32"/><circle cx="1380.5" cy="185.8" r="2.8" fill="none" stroke="#4fb0ea" stroke-opacity="0.24" stroke-width="1"/><circle cx="1396.3" cy="185.8" r="2.8" fill="none" stroke="#4fb0ea" stroke-opacity="0.32" stroke-width="1"/><circle cx="1412.1" cy="185.8" r="2.8" fill="none" stroke="#4fb0ea" stroke-opacity="0.32" stroke-width="1"/><circle cx="1491.1" cy="185.8" r="2.5" fill="#4fb0ea" fill-opacity="0.32"/><circle cx="1506.9" cy="185.8" r="2.8" fill="none" stroke="#4fb0ea" stroke-opacity="0.4" stroke-width="1"/><circle cx="1522.7" cy="185.8" r="2.8" fill="none" stroke="#4fb0ea" stroke-opacity="0.16" stroke-width="1"/><circle cx="1554.3" cy="185.8" r="2.5" fill="#4fb0ea" fill-opacity="0.24"/><circle cx="1585.9" cy="185.8" r="2.8" fill="none" stroke="#4fb0ea" stroke-opacity="0.32" stroke-width="1"/><circle cx="1601.7" cy="185.8" r="2.8" fill="none" stroke="#4fb0ea" stroke-opacity="0.24" stroke-width="1"/><circle cx="1633.3" cy="185.8" r="2.5" fill="#4fb0ea" fill-opacity="0.32"/><circle cx="1649.1" cy="185.8" r="2.5" fill="#4fb0ea" fill-opacity="0.24"/><circle cx="1664.9" cy="185.8" r="2.5" fill="#4fb0ea" fill-opacity="0.32"/><circle cx="1680.7" cy="185.8" r="2.5" fill="#4fb0ea" fill-opacity="0.24"/><circle cx="1696.5" cy="185.8" r="2.8" fill="none" stroke="#4fb0ea" stroke-opacity="0.24" stroke-width="1"/><circle cx="1728.1" cy="185.8" r="2.5" fill="#4fb0ea" fill-opacity="0.16"/><circle cx="1743.9" cy="185.8" r="2.5" fill="#4fb0ea" fill-opacity="0.4"/><circle cx="1791.3" cy="185.8" r="2.5" fill="#4fb0ea" fill-opacity="0.16"/><circle cx="1807.1" cy="185.8" r="2.5" fill="#4fb0ea" fill-opacity="0.4"/><circle cx="1822.9" cy="185.8" r="2.5" fill="#4fb0ea" fill-opacity="0.4"/><circle cx="1870.3" cy="185.8" r="2.8" fill="none" stroke="#4fb0ea" stroke-opacity="0.16" stroke-width="1"/><circle cx="1886.1" cy="185.8" r="2.5" fill="#4fb0ea" fill-opacity="0.24"/><circle cx="1901.9" cy="185.8" r="2.8" fill="none" stroke="#4fb0ea" stroke-opacity="0.32" stroke-width="1"/><circle cx="1917.7" cy="185.8" r="2.5" fill="#4fb0ea" fill-opacity="0.32"/><circle cx="1222.5" cy="199.1" r="2.5" fill="#4fb0ea" fill-opacity="0.4"/><circle cx="1254.1" cy="199.1" r="2.8" fill="none" stroke="#4fb0ea" stroke-opacity="0.32" stroke-width="1"/><circle cx="1301.5" cy="199.1" r="2.5" fill="#4fb0ea" fill-opacity="0.24"/><circle cx="1348.9" cy="199.1" r="2.8" fill="none" stroke="#4fb0ea" stroke-opacity="0.24" stroke-width="1"/><circle cx="1364.7" cy="199.1" r="2.8" fill="none" stroke="#4fb0ea" stroke-opacity="0.16" stroke-width="1"/><circle cx="1396.3" cy="199.1" r="2.5" fill="#4fb0ea" fill-opacity="0.24"/><circle cx="1443.7" cy="199.1" r="2.8" fill="none" stroke="#4fb0ea" stroke-opacity="0.24" stroke-width="1"/><circle cx="1475.3" cy="199.1" r="2.5" fill="#4fb0ea" fill-opacity="0.4"/><circle cx="1491.1" cy="199.1" r="2.5" fill="#4fb0ea" fill-opacity="0.4"/><circle cx="1506.9" cy="199.1" r="2.5" fill="#4fb0ea" fill-opacity="0.32"/><circle cx="1522.7" cy="199.1" r="2.8" fill="none" stroke="#4fb0ea" stroke-opacity="0.4" stroke-width="1"/><circle cx="1538.5" cy="199.1" r="2.5" fill="#4fb0ea" fill-opacity="0.4"/><circle cx="1554.3" cy="199.1" r="2.5" fill="#4fb0ea" fill-opacity="0.4"/><circle cx="1633.3" cy="199.1" r="2.5" fill="#4fb0ea" fill-opacity="0.24"/><circle cx="1664.9" cy="199.1" r="2.8" fill="none" stroke="#4fb0ea" stroke-opacity="0.32" stroke-width="1"/><circle cx="1712.3" cy="199.1" r="2.5" fill="#4fb0ea" fill-opacity="0.4"/><circle cx="1743.9" cy="199.1" r="2.5" fill="#4fb0ea" fill-opacity="0.4"/><circle cx="1759.7" cy="199.1" r="2.5" fill="#4fb0ea" fill-opacity="0.4"/><circle cx="1822.9" cy="199.1" r="2.5" fill="#4fb0ea" fill-opacity="0.16"/><circle cx="1838.7" cy="199.1" r="2.8" fill="none" stroke="#4fb0ea" stroke-opacity="0.16" stroke-width="1"/><circle cx="1854.5" cy="199.1" r="2.5" fill="#4fb0ea" fill-opacity="0.24"/><circle cx="1886.1" cy="199.1" r="2.8" fill="none" stroke="#4fb0ea" stroke-opacity="0.32" stroke-width="1"/><circle cx="1901.9" cy="199.1" r="2.5" fill="#4fb0ea" fill-opacity="0.24"/><circle cx="1917.7" cy="199.1" r="2.5" fill="#4fb0ea" fill-opacity="0.32"/><circle cx="1222.5" cy="212.4" r="2.8" fill="none" stroke="#4fb0ea" stroke-opacity="0.4" stroke-width="1"/><circle cx="1254.1" cy="212.4" r="2.5" fill="#4fb0ea" fill-opacity="0.16"/><circle cx="1301.5" cy="212.4" r="2.5" fill="#4fb0ea" fill-opacity="0.4"/><circle cx="1317.3" cy="212.4" r="2.5" fill="#4fb0ea" fill-opacity="0.4"/><circle cx="1364.7" cy="212.4" r="2.8" fill="none" stroke="#4fb0ea" stroke-opacity="0.16" stroke-width="1"/><circle cx="1412.1" cy="212.4" r="2.5" fill="#4fb0ea" fill-opacity="0.24"/><circle cx="1443.7" cy="212.4" r="2.8" fill="none" stroke="#4fb0ea" stroke-opacity="0.24" stroke-width="1"/><circle cx="1506.9" cy="212.4" r="2.5" fill="#4fb0ea" fill-opacity="0.24"/><circle cx="1522.7" cy="212.4" r="2.5" fill="#4fb0ea" fill-opacity="0.4"/><circle cx="1538.5" cy="212.4" r="2.5" fill="#4fb0ea" fill-opacity="0.24"/><circle cx="1554.3" cy="212.4" r="2.8" fill="none" stroke="#4fb0ea" stroke-opacity="0.24" stroke-width="1"/><circle cx="1570.1" cy="212.4" r="2.5" fill="#4fb0ea" fill-opacity="0.32"/><circle cx="1601.7" cy="212.4" r="2.5" fill="#4fb0ea" fill-opacity="0.32"/><circle cx="1633.3" cy="212.4" r="2.5" fill="#4fb0ea" fill-opacity="0.4"/><circle cx="1680.7" cy="212.4" r="2.5" fill="#4fb0ea" fill-opacity="0.32"/><circle cx="1696.5" cy="212.4" r="2.5" fill="#4fb0ea" fill-opacity="0.32"/><circle cx="1712.3" cy="212.4" r="2.5" fill="#4fb0ea" fill-opacity="0.32"/><circle cx="1728.1" cy="212.4" r="2.8" fill="none" stroke="#4fb0ea" stroke-opacity="0.16" stroke-width="1"/><circle cx="1743.9" cy="212.4" r="2.8" fill="none" stroke="#4fb0ea" stroke-opacity="0.32" stroke-width="1"/><circle cx="1759.7" cy="212.4" r="2.5" fill="#4fb0ea" fill-opacity="0.24"/><circle cx="1775.5" cy="212.4" r="2.8" fill="none" stroke="#4fb0ea" stroke-opacity="0.4" stroke-width="1"/><circle cx="1791.3" cy="212.4" r="2.5" fill="#4fb0ea" fill-opacity="0.4"/><circle cx="1807.1" cy="212.4" r="2.5" fill="#4fb0ea" fill-opacity="0.16"/><circle cx="1870.3" cy="212.4" r="2.5" fill="#4fb0ea" fill-opacity="0.24"/><circle cx="1901.9" cy="212.4" r="2.5" fill="#4fb0ea" fill-opacity="0.16"/><circle cx="1917.7" cy="212.4" r="2.5" fill="#4fb0ea" fill-opacity="0.24"/><circle cx="1222.5" cy="225.7" r="2.5" fill="#4fb0ea" fill-opacity="0.16"/><circle cx="1269.9" cy="225.7" r="2.5" fill="#4fb0ea" fill-opacity="0.24"/><circle cx="1301.5" cy="225.7" r="2.5" fill="#4fb0ea" fill-opacity="0.32"/><circle cx="1317.3" cy="225.7" r="2.5" fill="#4fb0ea" fill-opacity="0.32"/><circle cx="1333.1" cy="225.7" r="2.5" fill="#4fb0ea" fill-opacity="0.4"/><circle cx="1364.7" cy="225.7" r="2.5" fill="#4fb0ea" fill-opacity="0.32"/><circle cx="1380.5" cy="225.7" r="2.5" fill="#4fb0ea" fill-opacity="0.16"/><circle cx="1412.1" cy="225.7" r="2.5" fill="#4fb0ea" fill-opacity="0.16"/><circle cx="1427.9" cy="225.7" r="2.8" fill="none" stroke="#4fb0ea" stroke-opacity="0.24" stroke-width="1"/><circle cx="1475.3" cy="225.7" r="2.8" fill="none" stroke="#4fb0ea" stroke-opacity="0.32" stroke-width="1"/><circle cx="1506.9" cy="225.7" r="2.8" fill="none" stroke="#4fb0ea" stroke-opacity="0.24" stroke-width="1"/><circle cx="1522.7" cy="225.7" r="2.5" fill="#4fb0ea" fill-opacity="0.32"/><circle cx="1554.3" cy="225.7" r="2.5" fill="#4fb0ea" fill-opacity="0.4"/><circle cx="1570.1" cy="225.7" r="2.5" fill="#4fb0ea" fill-opacity="0.32"/><circle cx="1585.9" cy="225.7" r="2.5" fill="#4fb0ea" fill-opacity="0.24"/><circle cx="1617.5" cy="225.7" r="2.5" fill="#4fb0ea" fill-opacity="0.32"/><circle cx="1633.3" cy="225.7" r="2.5" fill="#4fb0ea" fill-opacity="0.16"/><circle cx="1649.1" cy="225.7" r="2.5" fill="#4fb0ea" fill-opacity="0.4"/><circle cx="1664.9" cy="225.7" r="2.8" fill="none" stroke="#4fb0ea" stroke-opacity="0.32" stroke-width="1"/><circle cx="1680.7" cy="225.7" r="2.5" fill="#4fb0ea" fill-opacity="0.4"/><circle cx="1807.1" cy="225.7" r="2.8" fill="none" stroke="#4fb0ea" stroke-opacity="0.16" stroke-width="1"/><circle cx="1838.7" cy="225.7" r="2.8" fill="none" stroke="#4fb0ea" stroke-opacity="0.24" stroke-width="1"/><circle cx="1854.5" cy="225.7" r="2.5" fill="#4fb0ea" fill-opacity="0.16"/><circle cx="1870.3" cy="225.7" r="2.5" fill="#4fb0ea" fill-opacity="0.16"/><circle cx="1917.7" cy="225.7" r="2.5" fill="#4fb0ea" fill-opacity="0.32"/><circle cx="1206.7" cy="239.0" r="2.8" fill="none" stroke="#4fb0ea" stroke-opacity="0.16" stroke-width="1"/><circle cx="1222.5" cy="239.0" r="2.5" fill="#4fb0ea" fill-opacity="0.16"/><circle cx="1238.3" cy="239.0" r="2.5" fill="#4fb0ea" fill-opacity="0.16"/><circle cx="1254.1" cy="239.0" r="2.5" fill="#4fb0ea" fill-opacity="0.4"/><circle cx="1269.9" cy="239.0" r="2.5" fill="#4fb0ea" fill-opacity="0.4"/><circle cx="1317.3" cy="239.0" r="2.5" fill="#4fb0ea" fill-opacity="0.4"/><circle cx="1333.1" cy="239.0" r="2.8" fill="none" stroke="#4fb0ea" stroke-opacity="0.4" stroke-width="1"/><circle cx="1348.9" cy="239.0" r="2.5" fill="#4fb0ea" fill-opacity="0.16"/><circle cx="1364.7" cy="239.0" r="2.5" fill="#4fb0ea" fill-opacity="0.16"/><circle cx="1396.3" cy="239.0" r="2.8" fill="none" stroke="#4fb0ea" stroke-opacity="0.16" stroke-width="1"/><circle cx="1412.1" cy="239.0" r="2.5" fill="#4fb0ea" fill-opacity="0.24"/><circle cx="1459.5" cy="239.0" r="2.5" fill="#4fb0ea" fill-opacity="0.24"/><circle cx="1475.3" cy="239.0" r="2.5" fill="#4fb0ea" fill-opacity="0.4"/><circle cx="1506.9" cy="239.0" r="2.5" fill="#4fb0ea" fill-opacity="0.16"/><circle cx="1522.7" cy="239.0" r="2.5" fill="#4fb0ea" fill-opacity="0.16"/><circle cx="1570.1" cy="239.0" r="2.5" fill="#4fb0ea" fill-opacity="0.32"/><circle cx="1585.9" cy="239.0" r="2.5" fill="#4fb0ea" fill-opacity="0.4"/><circle cx="1601.7" cy="239.0" r="2.5" fill="#4fb0ea" fill-opacity="0.4"/><circle cx="1617.5" cy="239.0" r="2.5" fill="#4fb0ea" fill-opacity="0.16"/><circle cx="1664.9" cy="239.0" r="2.5" fill="#4fb0ea" fill-opacity="0.4"/><circle cx="1680.7" cy="239.0" r="2.5" fill="#4fb0ea" fill-opacity="0.32"/><circle cx="1696.5" cy="239.0" r="2.8" fill="none" stroke="#4fb0ea" stroke-opacity="0.32" stroke-width="1"/><circle cx="1759.7" cy="239.0" r="2.5" fill="#4fb0ea" fill-opacity="0.16"/><circle cx="1791.3" cy="239.0" r="2.5" fill="#4fb0ea" fill-opacity="0.4"/><circle cx="1807.1" cy="239.0" r="2.5" fill="#4fb0ea" fill-opacity="0.4"/><circle cx="1870.3" cy="239.0" r="2.8" fill="none" stroke="#4fb0ea" stroke-opacity="0.16" stroke-width="1"/><circle cx="1886.1" cy="239.0" r="2.5" fill="#4fb0ea" fill-opacity="0.24"/><circle cx="1206.7" cy="252.3" r="2.5" fill="#4fb0ea" fill-opacity="0.24"/><circle cx="1238.3" cy="252.3" r="2.5" fill="#4fb0ea" fill-opacity="0.32"/><circle cx="1269.9" cy="252.3" r="2.8" fill="none" stroke="#4fb0ea" stroke-opacity="0.4" stroke-width="1"/><circle cx="1285.7" cy="252.3" r="2.5" fill="#4fb0ea" fill-opacity="0.4"/><circle cx="1301.5" cy="252.3" r="2.8" fill="none" stroke="#4fb0ea" stroke-opacity="0.24" stroke-width="1"/><circle cx="1317.3" cy="252.3" r="2.5" fill="#4fb0ea" fill-opacity="0.4"/><circle cx="1333.1" cy="252.3" r="2.5" fill="#4fb0ea" fill-opacity="0.32"/><circle cx="1348.9" cy="252.3" r="2.5" fill="#4fb0ea" fill-opacity="0.4"/><circle cx="1364.7" cy="252.3" r="2.5" fill="#4fb0ea" fill-opacity="0.32"/><circle cx="1380.5" cy="252.3" r="2.5" fill="#4fb0ea" fill-opacity="0.32"/><circle cx="1396.3" cy="252.3" r="2.5" fill="#4fb0ea" fill-opacity="0.4"/><circle cx="1412.1" cy="252.3" r="2.8" fill="none" stroke="#4fb0ea" stroke-opacity="0.24" stroke-width="1"/><circle cx="1427.9" cy="252.3" r="2.5" fill="#4fb0ea" fill-opacity="0.32"/><circle cx="1443.7" cy="252.3" r="2.5" fill="#4fb0ea" fill-opacity="0.4"/><circle cx="1475.3" cy="252.3" r="2.5" fill="#4fb0ea" fill-opacity="0.4"/><circle cx="1491.1" cy="252.3" r="2.5" fill="#4fb0ea" fill-opacity="0.4"/><circle cx="1506.9" cy="252.3" r="2.8" fill="none" stroke="#4fb0ea" stroke-opacity="0.16" stroke-width="1"/><circle cx="1522.7" cy="252.3" r="2.8" fill="none" stroke="#4fb0ea" stroke-opacity="0.16" stroke-width="1"/><circle cx="1538.5" cy="252.3" r="2.5" fill="#4fb0ea" fill-opacity="0.4"/><circle cx="1554.3" cy="252.3" r="2.5" fill="#4fb0ea" fill-opacity="0.32"/><circle cx="1633.3" cy="252.3" r="2.8" fill="none" stroke="#4fb0ea" stroke-opacity="0.16" stroke-width="1"/><circle cx="1664.9" cy="252.3" r="2.8" fill="none" stroke="#4fb0ea" stroke-opacity="0.16" stroke-width="1"/><circle cx="1680.7" cy="252.3" r="2.5" fill="#4fb0ea" fill-opacity="0.4"/><circle cx="1791.3" cy="252.3" r="2.5" fill="#4fb0ea" fill-opacity="0.32"/><circle cx="1854.5" cy="252.3" r="2.5" fill="#4fb0ea" fill-opacity="0.4"/><circle cx="1870.3" cy="252.3" r="2.5" fill="#4fb0ea" fill-opacity="0.24"/><circle cx="1886.1" cy="252.3" r="2.5" fill="#4fb0ea" fill-opacity="0.16"/><circle cx="1917.7" cy="252.3" r="2.5" fill="#4fb0ea" fill-opacity="0.16"/><circle cx="1206.7" cy="265.6" r="2.8" fill="none" stroke="#4fb0ea" stroke-opacity="0.38399999999999995" stroke-width="1"/><circle cx="1222.5" cy="265.6" r="2.5" fill="#4fb0ea" fill-opacity="0.1536"/><circle cx="1254.1" cy="265.6" r="2.5" fill="#4fb0ea" fill-opacity="0.38399999999999995"/><circle cx="1269.9" cy="265.6" r="2.5" fill="#4fb0ea" fill-opacity="0.3072"/><circle cx="1285.7" cy="265.6" r="2.5" fill="#4fb0ea" fill-opacity="0.3072"/><circle cx="1301.5" cy="265.6" r="2.5" fill="#4fb0ea" fill-opacity="0.23039999999999997"/><circle cx="1348.9" cy="265.6" r="2.5" fill="#4fb0ea" fill-opacity="0.23039999999999997"/><circle cx="1364.7" cy="265.6" r="2.8" fill="none" stroke="#4fb0ea" stroke-opacity="0.23039999999999997" stroke-width="1"/><circle cx="1396.3" cy="265.6" r="2.5" fill="#4fb0ea" fill-opacity="0.23039999999999997"/><circle cx="1443.7" cy="265.6" r="2.5" fill="#4fb0ea" fill-opacity="0.1536"/><circle cx="1459.5" cy="265.6" r="2.8" fill="none" stroke="#4fb0ea" stroke-opacity="0.3072" stroke-width="1"/><circle cx="1475.3" cy="265.6" r="2.5" fill="#4fb0ea" fill-opacity="0.1536"/><circle cx="1491.1" cy="265.6" r="2.5" fill="#4fb0ea" fill-opacity="0.23039999999999997"/><circle cx="1506.9" cy="265.6" r="2.5" fill="#4fb0ea" fill-opacity="0.38399999999999995"/><circle cx="1522.7" cy="265.6" r="2.8" fill="none" stroke="#4fb0ea" stroke-opacity="0.23039999999999997" stroke-width="1"/><circle cx="1538.5" cy="265.6" r="2.8" fill="none" stroke="#4fb0ea" stroke-opacity="0.23039999999999997" stroke-width="1"/><circle cx="1554.3" cy="265.6" r="2.8" fill="none" stroke="#4fb0ea" stroke-opacity="0.3072" stroke-width="1"/><circle cx="1570.1" cy="265.6" r="2.8" fill="none" stroke="#4fb0ea" stroke-opacity="0.38399999999999995" stroke-width="1"/><circle cx="1585.9" cy="265.6" r="2.8" fill="none" stroke="#4fb0ea" stroke-opacity="0.38399999999999995" stroke-width="1"/><circle cx="1617.5" cy="265.6" r="2.5" fill="#4fb0ea" fill-opacity="0.23039999999999997"/><circle cx="1649.1" cy="265.6" r="2.5" fill="#4fb0ea" fill-opacity="0.23039999999999997"/><circle cx="1664.9" cy="265.6" r="2.5" fill="#4fb0ea" fill-opacity="0.3072"/><circle cx="1696.5" cy="265.6" r="2.5" fill="#4fb0ea" fill-opacity="0.3072"/><circle cx="1712.3" cy="265.6" r="2.8" fill="none" stroke="#4fb0ea" stroke-opacity="0.3072" stroke-width="1"/><circle cx="1743.9" cy="265.6" r="2.5" fill="#4fb0ea" fill-opacity="0.3072"/><circle cx="1759.7" cy="265.6" r="2.8" fill="none" stroke="#4fb0ea" stroke-opacity="0.3072" stroke-width="1"/><circle cx="1775.5" cy="265.6" r="2.8" fill="none" stroke="#4fb0ea" stroke-opacity="0.38399999999999995" stroke-width="1"/><circle cx="1791.3" cy="265.6" r="2.5" fill="#4fb0ea" fill-opacity="0.23039999999999997"/><circle cx="1807.1" cy="265.6" r="2.5" fill="#4fb0ea" fill-opacity="0.23039999999999997"/><circle cx="1822.9" cy="265.6" r="2.5" fill="#4fb0ea" fill-opacity="0.1536"/><circle cx="1886.1" cy="265.6" r="2.5" fill="#4fb0ea" fill-opacity="0.23039999999999997"/><circle cx="1206.7" cy="278.9" r="2.8" fill="none" stroke="#4fb0ea" stroke-opacity="0.20760000000000003" stroke-width="1"/><circle cx="1238.3" cy="278.9" r="2.5" fill="#4fb0ea" fill-opacity="0.13840000000000005"/><circle cx="1254.1" cy="278.9" r="2.5" fill="#4fb0ea" fill-opacity="0.2768000000000001"/><circle cx="1285.7" cy="278.9" r="2.5" fill="#4fb0ea" fill-opacity="0.13840000000000005"/><circle cx="1317.3" cy="278.9" r="2.8" fill="none" stroke="#4fb0ea" stroke-opacity="0.2768000000000001" stroke-width="1"/><circle cx="1333.1" cy="278.9" r="2.8" fill="none" stroke="#4fb0ea" stroke-opacity="0.2768000000000001" stroke-width="1"/><circle cx="1364.7" cy="278.9" r="2.5" fill="#4fb0ea" fill-opacity="0.13840000000000005"/><circle cx="1412.1" cy="278.9" r="2.5" fill="#4fb0ea" fill-opacity="0.2768000000000001"/><circle cx="1459.5" cy="278.9" r="2.5" fill="#4fb0ea" fill-opacity="0.3460000000000001"/><circle cx="1491.1" cy="278.9" r="2.5" fill="#4fb0ea" fill-opacity="0.13840000000000005"/><circle cx="1506.9" cy="278.9" r="2.5" fill="#4fb0ea" fill-opacity="0.13840000000000005"/><circle cx="1522.7" cy="278.9" r="2.8" fill="none" stroke="#4fb0ea" stroke-opacity="0.13840000000000005" stroke-width="1"/><circle cx="1538.5" cy="278.9" r="2.8" fill="none" stroke="#4fb0ea" stroke-opacity="0.20760000000000003" stroke-width="1"/><circle cx="1554.3" cy="278.9" r="2.8" fill="none" stroke="#4fb0ea" stroke-opacity="0.13840000000000005" stroke-width="1"/><circle cx="1601.7" cy="278.9" r="2.5" fill="#4fb0ea" fill-opacity="0.3460000000000001"/><circle cx="1633.3" cy="278.9" r="2.5" fill="#4fb0ea" fill-opacity="0.13840000000000005"/><circle cx="1649.1" cy="278.9" r="2.5" fill="#4fb0ea" fill-opacity="0.13840000000000005"/><circle cx="1664.9" cy="278.9" r="2.8" fill="none" stroke="#4fb0ea" stroke-opacity="0.2768000000000001" stroke-width="1"/><circle cx="1680.7" cy="278.9" r="2.5" fill="#4fb0ea" fill-opacity="0.20760000000000003"/><circle cx="1696.5" cy="278.9" r="2.8" fill="none" stroke="#4fb0ea" stroke-opacity="0.20760000000000003" stroke-width="1"/><circle cx="1712.3" cy="278.9" r="2.8" fill="none" stroke="#4fb0ea" stroke-opacity="0.3460000000000001" stroke-width="1"/><circle cx="1759.7" cy="278.9" r="2.5" fill="#4fb0ea" fill-opacity="0.3460000000000001"/><circle cx="1791.3" cy="278.9" r="2.5" fill="#4fb0ea" fill-opacity="0.13840000000000005"/><circle cx="1807.1" cy="278.9" r="2.5" fill="#4fb0ea" fill-opacity="0.20760000000000003"/><circle cx="1854.5" cy="278.9" r="2.5" fill="#4fb0ea" fill-opacity="0.2768000000000001"/><circle cx="1886.1" cy="278.9" r="2.5" fill="#4fb0ea" fill-opacity="0.20760000000000003"/><circle cx="1917.7" cy="278.9" r="2.5" fill="#4fb0ea" fill-opacity="0.3460000000000001"/><circle cx="1206.7" cy="292.2" r="2.5" fill="#4fb0ea" fill-opacity="0.12319999999999995"/><circle cx="1222.5" cy="292.2" r="2.8" fill="none" stroke="#4fb0ea" stroke-opacity="0.3079999999999999" stroke-width="1"/><circle cx="1254.1" cy="292.2" r="2.5" fill="#4fb0ea" fill-opacity="0.3079999999999999"/><circle cx="1364.7" cy="292.2" r="2.5" fill="#4fb0ea" fill-opacity="0.2463999999999999"/><circle cx="1427.9" cy="292.2" r="2.8" fill="none" stroke="#4fb0ea" stroke-opacity="0.12319999999999995" stroke-width="1"/><circle cx="1443.7" cy="292.2" r="2.8" fill="none" stroke="#4fb0ea" stroke-opacity="0.3079999999999999" stroke-width="1"/><circle cx="1459.5" cy="292.2" r="2.8" fill="none" stroke="#4fb0ea" stroke-opacity="0.12319999999999995" stroke-width="1"/><circle cx="1491.1" cy="292.2" r="2.8" fill="none" stroke="#4fb0ea" stroke-opacity="0.2463999999999999" stroke-width="1"/><circle cx="1506.9" cy="292.2" r="2.5" fill="#4fb0ea" fill-opacity="0.1847999999999999"/><circle cx="1522.7" cy="292.2" r="2.5" fill="#4fb0ea" fill-opacity="0.2463999999999999"/><circle cx="1538.5" cy="292.2" r="2.8" fill="none" stroke="#4fb0ea" stroke-opacity="0.2463999999999999" stroke-width="1"/><circle cx="1554.3" cy="292.2" r="2.5" fill="#4fb0ea" fill-opacity="0.2463999999999999"/><circle cx="1585.9" cy="292.2" r="2.8" fill="none" stroke="#4fb0ea" stroke-opacity="0.3079999999999999" stroke-width="1"/><circle cx="1617.5" cy="292.2" r="2.5" fill="#4fb0ea" fill-opacity="0.2463999999999999"/><circle cx="1633.3" cy="292.2" r="2.8" fill="none" stroke="#4fb0ea" stroke-opacity="0.2463999999999999" stroke-width="1"/><circle cx="1649.1" cy="292.2" r="2.5" fill="#4fb0ea" fill-opacity="0.1847999999999999"/><circle cx="1664.9" cy="292.2" r="2.8" fill="none" stroke="#4fb0ea" stroke-opacity="0.3079999999999999" stroke-width="1"/><circle cx="1680.7" cy="292.2" r="2.8" fill="none" stroke="#4fb0ea" stroke-opacity="0.1847999999999999" stroke-width="1"/><circle cx="1696.5" cy="292.2" r="2.8" fill="none" stroke="#4fb0ea" stroke-opacity="0.2463999999999999" stroke-width="1"/><circle cx="1728.1" cy="292.2" r="2.8" fill="none" stroke="#4fb0ea" stroke-opacity="0.12319999999999995" stroke-width="1"/><circle cx="1743.9" cy="292.2" r="2.5" fill="#4fb0ea" fill-opacity="0.2463999999999999"/><circle cx="1759.7" cy="292.2" r="2.5" fill="#4fb0ea" fill-opacity="0.3079999999999999"/><circle cx="1775.5" cy="292.2" r="2.5" fill="#4fb0ea" fill-opacity="0.12319999999999995"/><circle cx="1838.7" cy="292.2" r="2.8" fill="none" stroke="#4fb0ea" stroke-opacity="0.2463999999999999" stroke-width="1"/><circle cx="1854.5" cy="292.2" r="2.5" fill="#4fb0ea" fill-opacity="0.2463999999999999"/><circle cx="1870.3" cy="292.2" r="2.8" fill="none" stroke="#4fb0ea" stroke-opacity="0.3079999999999999" stroke-width="1"/><circle cx="1206.7" cy="305.5" r="2.8" fill="none" stroke="#4fb0ea" stroke-opacity="0.10800000000000001" stroke-width="1"/><circle cx="1238.3" cy="305.5" r="2.5" fill="#4fb0ea" fill-opacity="0.27"/><circle cx="1269.9" cy="305.5" r="2.5" fill="#4fb0ea" fill-opacity="0.21600000000000003"/><circle cx="1301.5" cy="305.5" r="2.5" fill="#4fb0ea" fill-opacity="0.27"/><circle cx="1317.3" cy="305.5" r="2.8" fill="none" stroke="#4fb0ea" stroke-opacity="0.21600000000000003" stroke-width="1"/><circle cx="1333.1" cy="305.5" r="2.5" fill="#4fb0ea" fill-opacity="0.27"/><circle cx="1348.9" cy="305.5" r="2.5" fill="#4fb0ea" fill-opacity="0.27"/><circle cx="1364.7" cy="305.5" r="2.5" fill="#4fb0ea" fill-opacity="0.21600000000000003"/><circle cx="1380.5" cy="305.5" r="2.5" fill="#4fb0ea" fill-opacity="0.27"/><circle cx="1396.3" cy="305.5" r="2.8" fill="none" stroke="#4fb0ea" stroke-opacity="0.21600000000000003" stroke-width="1"/><circle cx="1459.5" cy="305.5" r="2.5" fill="#4fb0ea" fill-opacity="0.27"/><circle cx="1491.1" cy="305.5" r="2.5" fill="#4fb0ea" fill-opacity="0.21600000000000003"/><circle cx="1506.9" cy="305.5" r="2.5" fill="#4fb0ea" fill-opacity="0.21600000000000003"/><circle cx="1538.5" cy="305.5" r="2.5" fill="#4fb0ea" fill-opacity="0.27"/><circle cx="1554.3" cy="305.5" r="2.5" fill="#4fb0ea" fill-opacity="0.21600000000000003"/><circle cx="1570.1" cy="305.5" r="2.5" fill="#4fb0ea" fill-opacity="0.10800000000000001"/><circle cx="1585.9" cy="305.5" r="2.5" fill="#4fb0ea" fill-opacity="0.21600000000000003"/><circle cx="1633.3" cy="305.5" r="2.5" fill="#4fb0ea" fill-opacity="0.162"/><circle cx="1649.1" cy="305.5" r="2.5" fill="#4fb0ea" fill-opacity="0.27"/><circle cx="1680.7" cy="305.5" r="2.8" fill="none" stroke="#4fb0ea" stroke-opacity="0.10800000000000001" stroke-width="1"/><circle cx="1696.5" cy="305.5" r="2.5" fill="#4fb0ea" fill-opacity="0.10800000000000001"/><circle cx="1712.3" cy="305.5" r="2.5" fill="#4fb0ea" fill-opacity="0.10800000000000001"/><circle cx="1728.1" cy="305.5" r="2.5" fill="#4fb0ea" fill-opacity="0.21600000000000003"/><circle cx="1775.5" cy="305.5" r="2.5" fill="#4fb0ea" fill-opacity="0.162"/><circle cx="1807.1" cy="305.5" r="2.5" fill="#4fb0ea" fill-opacity="0.162"/><circle cx="1822.9" cy="305.5" r="2.5" fill="#4fb0ea" fill-opacity="0.10800000000000001"/><circle cx="1870.3" cy="305.5" r="2.8" fill="none" stroke="#4fb0ea" stroke-opacity="0.27" stroke-width="1"/><circle cx="1886.1" cy="305.5" r="2.5" fill="#4fb0ea" fill-opacity="0.10800000000000001"/><circle cx="1901.9" cy="305.5" r="2.5" fill="#4fb0ea" fill-opacity="0.10800000000000001"/><circle cx="1206.7" cy="318.8" r="2.5" fill="#4fb0ea" fill-opacity="0.23199999999999982"/><circle cx="1222.5" cy="318.8" r="2.5" fill="#4fb0ea" fill-opacity="0.13919999999999988"/><circle cx="1238.3" cy="318.8" r="2.8" fill="none" stroke="#4fb0ea" stroke-opacity="0.09279999999999992" stroke-width="1"/><circle cx="1254.1" cy="318.8" r="2.8" fill="none" stroke="#4fb0ea" stroke-opacity="0.09279999999999992" stroke-width="1"/><circle cx="1269.9" cy="318.8" r="2.5" fill="#4fb0ea" fill-opacity="0.23199999999999982"/><circle cx="1317.3" cy="318.8" r="2.5" fill="#4fb0ea" fill-opacity="0.09279999999999992"/><circle cx="1333.1" cy="318.8" r="2.5" fill="#4fb0ea" fill-opacity="0.13919999999999988"/><circle cx="1348.9" cy="318.8" r="2.8" fill="none" stroke="#4fb0ea" stroke-opacity="0.13919999999999988" stroke-width="1"/><circle cx="1412.1" cy="318.8" r="2.5" fill="#4fb0ea" fill-opacity="0.13919999999999988"/><circle cx="1427.9" cy="318.8" r="2.8" fill="none" stroke="#4fb0ea" stroke-opacity="0.09279999999999992" stroke-width="1"/><circle cx="1443.7" cy="318.8" r="2.5" fill="#4fb0ea" fill-opacity="0.09279999999999992"/><circle cx="1475.3" cy="318.8" r="2.8" fill="none" stroke="#4fb0ea" stroke-opacity="0.09279999999999992" stroke-width="1"/><circle cx="1491.1" cy="318.8" r="2.8" fill="none" stroke="#4fb0ea" stroke-opacity="0.13919999999999988" stroke-width="1"/><circle cx="1538.5" cy="318.8" r="2.5" fill="#4fb0ea" fill-opacity="0.18559999999999985"/><circle cx="1554.3" cy="318.8" r="2.8" fill="none" stroke="#4fb0ea" stroke-opacity="0.09279999999999992" stroke-width="1"/><circle cx="1570.1" cy="318.8" r="2.5" fill="#4fb0ea" fill-opacity="0.13919999999999988"/><circle cx="1585.9" cy="318.8" r="2.8" fill="none" stroke="#4fb0ea" stroke-opacity="0.23199999999999982" stroke-width="1"/><circle cx="1617.5" cy="318.8" r="2.5" fill="#4fb0ea" fill-opacity="0.13919999999999988"/><circle cx="1633.3" cy="318.8" r="2.5" fill="#4fb0ea" fill-opacity="0.18559999999999985"/><circle cx="1649.1" cy="318.8" r="2.5" fill="#4fb0ea" fill-opacity="0.18559999999999985"/><circle cx="1664.9" cy="318.8" r="2.5" fill="#4fb0ea" fill-opacity="0.23199999999999982"/><circle cx="1696.5" cy="318.8" r="2.5" fill="#4fb0ea" fill-opacity="0.18559999999999985"/><circle cx="1712.3" cy="318.8" r="2.8" fill="none" stroke="#4fb0ea" stroke-opacity="0.23199999999999982" stroke-width="1"/><circle cx="1728.1" cy="318.8" r="2.8" fill="none" stroke="#4fb0ea" stroke-opacity="0.09279999999999992" stroke-width="1"/><circle cx="1743.9" cy="318.8" r="2.8" fill="none" stroke="#4fb0ea" stroke-opacity="0.13919999999999988" stroke-width="1"/><circle cx="1759.7" cy="318.8" r="2.8" fill="none" stroke="#4fb0ea" stroke-opacity="0.13919999999999988" stroke-width="1"/><circle cx="1791.3" cy="318.8" r="2.5" fill="#4fb0ea" fill-opacity="0.23199999999999982"/><circle cx="1822.9" cy="318.8" r="2.5" fill="#4fb0ea" fill-opacity="0.18559999999999985"/><circle cx="1854.5" cy="318.8" r="2.8" fill="none" stroke="#4fb0ea" stroke-opacity="0.13919999999999988" stroke-width="1"/><circle cx="1870.3" cy="318.8" r="2.8" fill="none" stroke="#4fb0ea" stroke-opacity="0.13919999999999988" stroke-width="1"/><circle cx="1886.1" cy="318.8" r="2.5" fill="#4fb0ea" fill-opacity="0.13919999999999988"/><circle cx="1917.7" cy="318.8" r="2.5" fill="#4fb0ea" fill-opacity="0.23199999999999982"/><circle cx="1206.7" cy="332.1" r="2.5" fill="#4fb0ea" fill-opacity="0.11639999999999995"/><circle cx="1238.3" cy="332.1" r="2.5" fill="#4fb0ea" fill-opacity="0.07759999999999997"/><circle cx="1254.1" cy="332.1" r="2.5" fill="#4fb0ea" fill-opacity="0.15519999999999995"/><circle cx="1285.7" cy="332.1" r="2.8" fill="none" stroke="#4fb0ea" stroke-opacity="0.11639999999999995" stroke-width="1"/><circle cx="1301.5" cy="332.1" r="2.5" fill="#4fb0ea" fill-opacity="0.07759999999999997"/><circle cx="1333.1" cy="332.1" r="2.5" fill="#4fb0ea" fill-opacity="0.11639999999999995"/><circle cx="1348.9" cy="332.1" r="2.5" fill="#4fb0ea" fill-opacity="0.15519999999999995"/><circle cx="1380.5" cy="332.1" r="2.8" fill="none" stroke="#4fb0ea" stroke-opacity="0.15519999999999995" stroke-width="1"/><circle cx="1396.3" cy="332.1" r="2.8" fill="none" stroke="#4fb0ea" stroke-opacity="0.19399999999999995" stroke-width="1"/><circle cx="1491.1" cy="332.1" r="2.8" fill="none" stroke="#4fb0ea" stroke-opacity="0.15519999999999995" stroke-width="1"/><circle cx="1506.9" cy="332.1" r="2.5" fill="#4fb0ea" fill-opacity="0.15519999999999995"/><circle cx="1522.7" cy="332.1" r="2.8" fill="none" stroke="#4fb0ea" stroke-opacity="0.19399999999999995" stroke-width="1"/><circle cx="1554.3" cy="332.1" r="2.8" fill="none" stroke="#4fb0ea" stroke-opacity="0.07759999999999997" stroke-width="1"/><circle cx="1570.1" cy="332.1" r="2.5" fill="#4fb0ea" fill-opacity="0.11639999999999995"/><circle cx="1585.9" cy="332.1" r="2.5" fill="#4fb0ea" fill-opacity="0.07759999999999997"/><circle cx="1633.3" cy="332.1" r="2.5" fill="#4fb0ea" fill-opacity="0.07759999999999997"/><circle cx="1696.5" cy="332.1" r="2.5" fill="#4fb0ea" fill-opacity="0.19399999999999995"/><circle cx="1712.3" cy="332.1" r="2.5" fill="#4fb0ea" fill-opacity="0.19399999999999995"/><circle cx="1759.7" cy="332.1" r="2.5" fill="#4fb0ea" fill-opacity="0.15519999999999995"/><circle cx="1854.5" cy="332.1" r="2.8" fill="none" stroke="#4fb0ea" stroke-opacity="0.15519999999999995" stroke-width="1"/><circle cx="1901.9" cy="332.1" r="2.5" fill="#4fb0ea" fill-opacity="0.19399999999999995"/><circle cx="1206.7" cy="345.4" r="2.8" fill="none" stroke="#4fb0ea" stroke-opacity="0.06240000000000003" stroke-width="1"/><circle cx="1364.7" cy="345.4" r="2.5" fill="#4fb0ea" fill-opacity="0.09360000000000004"/><circle cx="1380.5" cy="345.4" r="2.8" fill="none" stroke="#4fb0ea" stroke-opacity="0.12480000000000006" stroke-width="1"/><circle cx="1396.3" cy="345.4" r="2.5" fill="#4fb0ea" fill-opacity="0.09360000000000004"/><circle cx="1412.1" cy="345.4" r="2.8" fill="none" stroke="#4fb0ea" stroke-opacity="0.06240000000000003" stroke-width="1"/><circle cx="1443.7" cy="345.4" r="2.8" fill="none" stroke="#4fb0ea" stroke-opacity="0.12480000000000006" stroke-width="1"/><circle cx="1522.7" cy="345.4" r="2.8" fill="none" stroke="#4fb0ea" stroke-opacity="0.15600000000000008" stroke-width="1"/><circle cx="1570.1" cy="345.4" r="2.5" fill="#4fb0ea" fill-opacity="0.09360000000000004"/><circle cx="1585.9" cy="345.4" r="2.5" fill="#4fb0ea" fill-opacity="0.06240000000000003"/><circle cx="1617.5" cy="345.4" r="2.5" fill="#4fb0ea" fill-opacity="0.09360000000000004"/><circle cx="1680.7" cy="345.4" r="2.8" fill="none" stroke="#4fb0ea" stroke-opacity="0.12480000000000006" stroke-width="1"/><circle cx="1712.3" cy="345.4" r="2.8" fill="none" stroke="#4fb0ea" stroke-opacity="0.12480000000000006" stroke-width="1"/><circle cx="1728.1" cy="345.4" r="2.5" fill="#4fb0ea" fill-opacity="0.12480000000000006"/><circle cx="1743.9" cy="345.4" r="2.5" fill="#4fb0ea" fill-opacity="0.12480000000000006"/><circle cx="1775.5" cy="345.4" r="2.8" fill="none" stroke="#4fb0ea" stroke-opacity="0.06240000000000003" stroke-width="1"/><circle cx="1854.5" cy="345.4" r="2.8" fill="none" stroke="#4fb0ea" stroke-opacity="0.12480000000000006" stroke-width="1"/><circle cx="1901.9" cy="345.4" r="2.8" fill="none" stroke="#4fb0ea" stroke-opacity="0.12480000000000006" stroke-width="1"/><circle cx="1269.9" cy="358.7" r="2.8" fill="none" stroke="#4fb0ea" stroke-opacity="0.072" stroke-width="1"/><circle cx="1301.5" cy="358.7" r="2.5" fill="#4fb0ea" fill-opacity="0.12"/><circle cx="1333.1" cy="358.7" r="2.8" fill="none" stroke="#4fb0ea" stroke-opacity="0.072" stroke-width="1"/><circle cx="1443.7" cy="358.7" r="2.5" fill="#4fb0ea" fill-opacity="0.072"/><circle cx="1491.1" cy="358.7" r="2.8" fill="none" stroke="#4fb0ea" stroke-opacity="0.048" stroke-width="1"/><circle cx="1570.1" cy="358.7" r="2.5" fill="#4fb0ea" fill-opacity="0.072"/><circle cx="1601.7" cy="358.7" r="2.5" fill="#4fb0ea" fill-opacity="0.096"/><circle cx="1633.3" cy="358.7" r="2.8" fill="none" stroke="#4fb0ea" stroke-opacity="0.072" stroke-width="1"/><circle cx="1680.7" cy="358.7" r="2.5" fill="#4fb0ea" fill-opacity="0.048"/><circle cx="1712.3" cy="358.7" r="2.8" fill="none" stroke="#4fb0ea" stroke-opacity="0.096" stroke-width="1"/><circle cx="1206.7" cy="372.0" r="2.8" fill="none" stroke="#4fb0ea" stroke-opacity="0.096" stroke-width="1"/><circle cx="1364.7" cy="372.0" r="2.5" fill="#4fb0ea" fill-opacity="0.12"/><circle cx="1412.1" cy="372.0" r="2.5" fill="#4fb0ea" fill-opacity="0.096"/><circle cx="1554.3" cy="372.0" r="2.8" fill="none" stroke="#4fb0ea" stroke-opacity="0.072" stroke-width="1"/><circle cx="1601.7" cy="372.0" r="2.5" fill="#4fb0ea" fill-opacity="0.096"/><circle cx="1728.1" cy="372.0" r="2.8" fill="none" stroke="#4fb0ea" stroke-opacity="0.048" stroke-width="1"/><circle cx="1775.5" cy="372.0" r="2.5" fill="#4fb0ea" fill-opacity="0.096"/><circle cx="1222.5" cy="385.3" r="2.5" fill="#4fb0ea" fill-opacity="0.048"/><circle cx="1364.7" cy="385.3" r="2.5" fill="#4fb0ea" fill-opacity="0.096"/><circle cx="1380.5" cy="385.3" r="2.8" fill="none" stroke="#4fb0ea" stroke-opacity="0.072" stroke-width="1"/><circle cx="1396.3" cy="385.3" r="2.5" fill="#4fb0ea" fill-opacity="0.072"/><circle cx="1412.1" cy="385.3" r="2.5" fill="#4fb0ea" fill-opacity="0.072"/><circle cx="1617.5" cy="385.3" r="2.5" fill="#4fb0ea" fill-opacity="0.096"/><circle cx="1759.7" cy="385.3" r="2.8" fill="none" stroke="#4fb0ea" stroke-opacity="0.072" stroke-width="1"/><circle cx="1838.7" cy="385.3" r="2.5" fill="#4fb0ea" fill-opacity="0.048"/><circle cx="1854.5" cy="385.3" r="2.8" fill="none" stroke="#4fb0ea" stroke-opacity="0.096" stroke-width="1"/><circle cx="1886.1" cy="385.3" r="2.5" fill="#4fb0ea" fill-opacity="0.12"/><circle cx="1917.7" cy="385.3" r="2.5" fill="#4fb0ea" fill-opacity="0.096"/><circle cx="1206.7" cy="398.6" r="2.5" fill="#4fb0ea" fill-opacity="0.096"/><circle cx="1254.1" cy="398.6" r="2.8" fill="none" stroke="#4fb0ea" stroke-opacity="0.048" stroke-width="1"/><circle cx="1775.5" cy="398.6" r="2.5" fill="#4fb0ea" fill-opacity="0.096"/><circle cx="1886.1" cy="398.6" r="2.5" fill="#4fb0ea" fill-opacity="0.072"/><circle cx="1585.9" cy="411.9" r="2.5" fill="#4fb0ea" fill-opacity="0.12"/><circle cx="1917.7" cy="425.2" r="2.5" fill="#4fb0ea" fill-opacity="0.096"/><circle cx="1854.5" cy="438.5" r="2.5" fill="#4fb0ea" fill-opacity="0.048"/><circle cx="1870.3" cy="438.5" r="2.8" fill="none" stroke="#4fb0ea" stroke-opacity="0.072" stroke-width="1"/><circle cx="1886.1" cy="451.8" r="2.8" fill="none" stroke="#4fb0ea" stroke-opacity="0.096" stroke-width="1"/><circle cx="1854.5" cy="465.1" r="2.8" fill="none" stroke="#4fb0ea" stroke-opacity="0.096" stroke-width="1"/><circle cx="1870.3" cy="465.1" r="2.5" fill="#4fb0ea" fill-opacity="0.12"/><circle cx="1901.9" cy="465.1" r="2.5" fill="#4fb0ea" fill-opacity="0.072"/><circle cx="1917.7" cy="465.1" r="2.5" fill="#4fb0ea" fill-opacity="0.048"/><circle cx="1886.1" cy="478.4" r="2.5" fill="#4fb0ea" fill-opacity="0.048"/><circle cx="1901.9" cy="478.4" r="2.5" fill="#4fb0ea" fill-opacity="0.096"/><circle cx="1854.5" cy="505.0" r="2.5" fill="#4fb0ea" fill-opacity="0.096"/><circle cx="1901.9" cy="505.0" r="2.5" fill="#4fb0ea" fill-opacity="0.096"/><circle cx="1870.3" cy="518.3" r="2.8" fill="none" stroke="#4fb0ea" stroke-opacity="0.12" stroke-width="1"/><circle cx="1917.7" cy="518.3" r="2.5" fill="#4fb0ea" fill-opacity="0.072"/><circle cx="1917.7" cy="531.6" r="2.8" fill="none" stroke="#4fb0ea" stroke-opacity="0.12" stroke-width="1"/><circle cx="1854.5" cy="544.9" r="2.5" fill="#4fb0ea" fill-opacity="0.072"/><circle cx="1870.3" cy="558.2" r="2.8" fill="none" stroke="#4fb0ea" stroke-opacity="0.048" stroke-width="1"/><circle cx="1917.7" cy="558.2" r="2.5" fill="#4fb0ea" fill-opacity="0.096"/><circle cx="1854.5" cy="571.5" r="2.5" fill="#4fb0ea" fill-opacity="0.072"/><circle cx="1917.7" cy="571.5" r="2.8" fill="none" stroke="#4fb0ea" stroke-opacity="0.048" stroke-width="1"/><circle cx="1870.3" cy="584.8" r="2.5" fill="#4fb0ea" fill-opacity="0.072"/><circle cx="1917.7" cy="584.8" r="2.5" fill="#4fb0ea" fill-opacity="0.048"/><circle cx="1854.5" cy="598.1" r="2.5" fill="#4fb0ea" fill-opacity="0.12"/><circle cx="1901.9" cy="598.1" r="2.5" fill="#4fb0ea" fill-opacity="0.12"/><circle cx="1886.1" cy="624.7" r="2.5" fill="#4fb0ea" fill-opacity="0.096"/><circle cx="1901.9" cy="624.7" r="2.8" fill="none" stroke="#4fb0ea" stroke-opacity="0.096" stroke-width="1"/><circle cx="1870.3" cy="638.0" r="2.5" fill="#4fb0ea" fill-opacity="0.096"/><circle cx="1886.1" cy="677.9" r="2.5" fill="#4fb0ea" fill-opacity="0.096"/><circle cx="1917.7" cy="691.2" r="2.5" fill="#4fb0ea" fill-opacity="0.048"/><circle cx="1870.3" cy="704.5" r="2.5" fill="#4fb0ea" fill-opacity="0.072"/><circle cx="1901.9" cy="704.5" r="2.5" fill="#4fb0ea" fill-opacity="0.072"/><circle cx="1854.5" cy="717.8" r="2.8" fill="none" stroke="#4fb0ea" stroke-opacity="0.12" stroke-width="1"/><circle cx="1886.1" cy="717.8" r="2.8" fill="none" stroke="#4fb0ea" stroke-opacity="0.048" stroke-width="1"/><circle cx="1917.7" cy="717.8" r="2.8" fill="none" stroke="#4fb0ea" stroke-opacity="0.096" stroke-width="1"/></svg>
<svg class="r" style="left:0;top:0" width="726" height="1083" viewBox="1194 -3 726 1083">
<defs>
<linearGradient id="wg" x1="0" y1="0" x2="0" y2="1">
<stop offset="0" stop-color="#0364a3" stop-opacity="0.75"/>
<stop offset="0.45" stop-color="#0369ab" stop-opacity="0.3"/>
<stop offset="1" stop-color="#0b7fc0" stop-opacity="0.35"/>
</linearGradient>
<linearGradient id="tg" x1="0" y1="0" x2="0" y2="1">
<stop offset="0" stop-color="#0a7cc0" stop-opacity="0"/>
<stop offset="1" stop-color="#0a7cc0" stop-opacity="0.35"/>
</linearGradient>
</defs>
<path d="M1194,720 L1920,720 L1920,958 C1800,972 1700,1000 1600,998 C1480,994 1400,960 1280,842 L1194,800 Z" fill="url(#tg)" opacity="0.8"/>
<path d="M1280,842 C1400,960 1480,994 1600,998 C1700,1000 1800,972 1920,958 L1920,1080 L1194,1080 L1194,842 Z" fill="url(#wg)"/>

</svg>
</div>
<svg class="r" style="left:0;top:0" width="1920" height="1080" viewBox="0 0 1920 1080">
<path d="M0,792 A287,287 0 0 0 287,1079 L287,1080 L0,1080 Z" fill="#f2b600"/>
<g fill="#ffd21a" fill-opacity="0.35">
<circle cx="33" cy="1052" r="4"/><circle cx="33" cy="996" r="4"/><circle cx="60" cy="1001" r="3.5"/><circle cx="60" cy="1052" r="3.5"/><circle cx="87" cy="1037" r="4"/><circle cx="87" cy="1068" r="3.5"/><circle cx="115" cy="1043" r="4"/><circle cx="115" cy="1070" r="3.5"/><circle cx="60" cy="1075" r="3"/>
</g>
</svg>
<div class="r" style="left:63.5px;top:318px;width:1320.50px;height:95.80px;background:#1b375c;border-radius:30px 29px 0 0"></div><div class="r" style="left:63.5px;top:413.8px;width:1130.50px;height:0.80px;background:#69a3d6;"></div><div class="r" style="left:777px;top:318px;width:431.00px;height:37.80px;background:#035194;"></div><div class="r" style="left:63.5px;top:414.6px;width:1320.50px;height:90.70px;background:#035194;"></div><div class="r" style="left:63.5px;top:505.3px;width:1320.50px;height:94.70px;background:#1b375c;"></div><div class="r" style="left:63.5px;top:600px;width:1320.50px;height:83.60px;background:#035194;"></div><div class="r" style="left:63.5px;top:683.6px;width:1320.50px;height:91.40px;background:#1b375c;"></div><div class="r" style="left:63.5px;top:775px;width:1320.50px;height:63.60px;background:#035194;"></div><div class="r" style="left:63.5px;top:858.3px;width:1320.50px;height:90.30px;background:#1b375c;border-radius:0 0 30px 30px"></div>
<div class="r" style="left:286.00px;top:318px;width:2px;height:520.60px;background:#fff"></div><div class="r" style="left:286.00px;top:858.3px;width:2px;height:87.70px;background:#fff"></div><div class="r" style="left:775.30px;top:318px;width:2px;height:520.60px;background:#fff"></div><div class="r" style="left:775.30px;top:858.3px;width:2px;height:87.70px;background:#fff"></div><div class="r" style="left:883.90px;top:355.8px;width:2px;height:482.80px;background:#fff"></div><div class="r" style="left:883.90px;top:858.3px;width:2px;height:87.70px;background:#fff"></div><div class="r" style="left:990.10px;top:355.8px;width:2px;height:482.80px;background:#fff"></div><div class="r" style="left:990.10px;top:858.3px;width:2px;height:87.70px;background:#fff"></div><div class="r" style="left:1095.90px;top:355.8px;width:2px;height:482.80px;background:#fff"></div><div class="r" style="left:1095.90px;top:858.3px;width:2px;height:87.70px;background:#fff"></div><div class="r" style="left:1207.20px;top:318px;width:2px;height:520.60px;background:#fff"></div><div class="r" style="left:1207.20px;top:858.3px;width:2px;height:87.70px;background:#fff"></div>
<div class="t thin" style="left:58.09px;top:74.75px;font-size:76px;line-height:76px;font-weight:400;color:#1b2e6c;transform:scaleX(0.9857)">Evolução do varejo pet</div>
<div class="t " style="left:56.66px;top:152.00px;font-size:73.5px;line-height:73.5px;font-weight:700;color:#12703f;transform:scaleX(1.0476)">especializado 2023</div>
<div class="t thinq" style="left:57.44px;top:229.80px;font-size:40px;line-height:40px;font-weight:400;color:#12703f;transform:scaleX(1.0314)">Quadro Nacional</div>
<div class="t " style="left:76.50px;top:339.00px;font-size:25px;line-height:25px;font-weight:700;color:#ffffff;transform:scaleX(1.0041)">Tipo de</div>
<div class="t " style="left:74.47px;top:368.20px;font-size:25px;line-height:25px;font-weight:700;color:#ffffff;transform:scaleX(1.0153)">Estabelecimento</div>
<div class="t " style="left:328.59px;top:349.50px;font-size:25px;line-height:25px;font-weight:700;color:#ffffff;transform:scaleX(1.0110)">Caracterização do Estabelecimento</div>
<div class="t " style="left:897.53px;top:322.90px;font-size:25px;line-height:25px;font-weight:700;color:#ffffff;transform:scaleX(0.9860)">Número de Lojas</div>
<div class="t " style="left:814.48px;top:373.00px;font-size:26px;line-height:26px;font-weight:700;color:#ffffff;transform:scaleX(1.1161)">2020</div>
<div class="t " style="left:920.88px;top:373.00px;font-size:26px;line-height:26px;font-weight:700;color:#ffffff;transform:scaleX(1.0152)">2021</div>
<div class="t " style="left:1022.99px;top:373.00px;font-size:26px;line-height:26px;font-weight:700;color:#ffffff;transform:scaleX(1.0301)">2022</div>
<div class="t " style="left:1136.29px;top:373.00px;font-size:26px;line-height:26px;font-weight:700;color:#ffffff;transform:scaleX(1.0301)">2023</div>
<div class="t " style="left:1277.20px;top:331.40px;font-size:24px;line-height:24px;font-weight:700;color:#ffffff;transform:scaleX(1.0448)">Taxa de</div>
<div class="t " style="left:1215.20px;top:356.25px;font-size:24px;line-height:24px;font-weight:700;color:#ffffff;transform:scaleX(1.0517)">Crescimento</div>
<div class="t " style="left:1236.65px;top:383.75px;font-size:18px;line-height:18px;font-weight:700;color:#ffffff;transform:scaleX(1.1509)">2021-2022(%)</div>
<div class="t " style="left:74.31px;top:434.00px;font-size:25.5px;line-height:25.5px;font-weight:700;color:#ffffff;transform:scaleX(0.9953)">Mega Stores</div>
<div class="t " style="left:74.33px;top:462.80px;font-size:25.5px;line-height:25.5px;font-weight:700;color:#ffffff;transform:scaleX(0.9847)">Nacionais</div>
<div class="t " style="left:328.17px;top:426.50px;font-size:19px;line-height:19px;font-weight:400;color:#ffffff;transform:scaleX(1.0255)">Cobertura do mix 90%</div>
<div class="t " style="left:328.18px;top:450.00px;font-size:19px;line-height:19px;font-weight:400;color:#ffffff;transform:scaleX(1.0214)">Faturamento Mensal: Acima de R$750.000</div>
<div class="t " style="left:329.20px;top:473.90px;font-size:19px;line-height:19px;font-weight:400;color:#ffffff;transform:scaleX(1.0291)">Acima de 20 funcionários</div>
<div class="t " style="left:828.73px;top:445.30px;font-size:26px;line-height:26px;font-weight:400;color:#ffffff;transform:scaleX(1.0659)">253</div>
<div class="t " style="left:935.44px;top:445.30px;font-size:26px;line-height:26px;font-weight:400;color:#ffffff;transform:scaleX(1.0634)">283</div>
<div class="t " style="left:1037.25px;top:445.30px;font-size:26px;line-height:26px;font-weight:400;color:#ffffff;transform:scaleX(1.0452)">408</div>
<div class="t " style="left:1151.17px;top:445.30px;font-size:26px;line-height:26px;font-weight:400;color:#ffffff;transform:scaleX(1.0310)">485</div>
<div class="t " style="left:1266.09px;top:445.30px;font-size:26px;line-height:26px;font-weight:400;color:#ffffff;transform:scaleX(0.9058)">44,17%</div>
<div class="t " style="left:74.31px;top:522.30px;font-size:25.5px;line-height:25.5px;font-weight:700;color:#ffffff;transform:scaleX(0.9953)">Mega Stores</div>
<div class="t " style="left:74.36px;top:551.40px;font-size:25.5px;line-height:25.5px;font-weight:700;color:#ffffff;transform:scaleX(0.9706)">Regionais</div>
<div class="t " style="left:328.18px;top:518.90px;font-size:19px;line-height:19px;font-weight:400;color:#ffffff;transform:scaleX(1.0186)">Cobertura do mix 75%</div>
<div class="t " style="left:328.18px;top:542.90px;font-size:19px;line-height:19px;font-weight:400;color:#ffffff;transform:scaleX(1.0182)">Faturamento Mensal: R$250.001 até R$750.000</div>
<div class="t " style="left:329.20px;top:566.30px;font-size:19px;line-height:19px;font-weight:400;color:#ffffff;transform:scaleX(1.0310)">Acima de 20 funcionários</div>
<div class="t " style="left:828.15px;top:536.70px;font-size:26px;line-height:26px;font-weight:400;color:#ffffff;transform:scaleX(1.0548)">454</div>
<div class="t " style="left:938.20px;top:536.70px;font-size:26px;line-height:26px;font-weight:400;color:#ffffff;transform:scaleX(0.9976)">461</div>
<div class="t " style="left:1037.84px;top:536.70px;font-size:26px;line-height:26px;font-weight:400;color:#ffffff;transform:scaleX(1.0561)">473</div>
<div class="t " style="left:1151.14px;top:536.70px;font-size:26px;line-height:26px;font-weight:400;color:#ffffff;transform:scaleX(1.0561)">532</div>
<div class="t " style="left:1275.45px;top:536.70px;font-size:26px;line-height:26px;font-weight:400;color:#ffffff;transform:scaleX(0.9514)">2,60%</div>
<div class="t " style="left:74.35px;top:609.90px;font-size:25.5px;line-height:25.5px;font-weight:700;color:#ffffff;transform:scaleX(0.9750)">Pet Shop</div>
<div class="t " style="left:74.30px;top:639.00px;font-size:25.5px;line-height:25.5px;font-weight:700;color:#ffffff;transform:scaleX(0.9986)">Médio Porte</div>
<div class="t " style="left:328.18px;top:610.40px;font-size:19px;line-height:19px;font-weight:400;color:#ffffff;transform:scaleX(1.0250)">Cobertura do mix 50%</div>
<div class="t " style="left:328.18px;top:634.20px;font-size:19px;line-height:19px;font-weight:400;color:#ffffff;transform:scaleX(1.0153)">Faturamento Mensal: R$100.001 até R$250.000</div>
<div class="t " style="left:328.18px;top:658.40px;font-size:19px;line-height:19px;font-weight:400;color:#ffffff;transform:scaleX(1.0175)">De 5 a 19 funcionários</div>
<div class="t " style="left:809.20px;top:628.40px;font-size:26px;line-height:26px;font-weight:400;color:#ffffff;transform:scaleX(1.0048)">6.730</div>
<div class="t " style="left:914.27px;top:628.40px;font-size:26px;line-height:26px;font-weight:400;color:#ffffff;transform:scaleX(1.0286)">6.985</div>
<div class="t " style="left:1023.79px;top:628.40px;font-size:26px;line-height:26px;font-weight:400;color:#ffffff;transform:scaleX(0.9127)">7.281</div>
<div class="t " style="left:1134.04px;top:628.40px;font-size:26px;line-height:26px;font-weight:400;color:#ffffff;transform:scaleX(0.9603)">8.321</div>
<div class="t " style="left:1275.45px;top:628.40px;font-size:26px;line-height:26px;font-weight:400;color:#ffffff;transform:scaleX(0.9514)">4,24%</div>
<div class="t " style="left:74.39px;top:697.00px;font-size:25.5px;line-height:25.5px;font-weight:700;color:#ffffff;transform:scaleX(0.9548)">Pet Shop Loja</div>
<div class="t " style="left:75.31px;top:725.90px;font-size:25.5px;line-height:25.5px;font-weight:700;color:#ffffff;transform:scaleX(0.9929)">de Vizinhança</div>
<div class="t " style="left:328.18px;top:695.60px;font-size:19px;line-height:19px;font-weight:400;color:#ffffff;transform:scaleX(1.0250)">Cobertura do mix 90%</div>
<div class="t " style="left:328.18px;top:719.00px;font-size:19px;line-height:19px;font-weight:400;color:#ffffff;transform:scaleX(1.0212)">Faturamento Mensal: R$60.000 até R$100.000</div>
<div class="t " style="left:329.20px;top:743.20px;font-size:19px;line-height:19px;font-weight:400;color:#ffffff;transform:scaleX(1.0336)">Até 4 funcionários</div>
<div class="t " style="left:794.69px;top:712.60px;font-size:26px;line-height:26px;font-weight:400;color:#ffffff;transform:scaleX(1.0104)">30.702</div>
<div class="t " style="left:903.53px;top:712.60px;font-size:26px;line-height:26px;font-weight:400;color:#ffffff;transform:scaleX(0.9692)">31.860</div>
<div class="t " style="left:1003.20px;top:712.60px;font-size:26px;line-height:26px;font-weight:400;color:#ffffff;transform:scaleX(1.0000)">32.974</div>
<div class="t " style="left:1123.49px;top:712.60px;font-size:26px;line-height:26px;font-weight:400;color:#ffffff;transform:scaleX(0.9115)">41.518</div>
<div class="t " style="left:1276.06px;top:712.60px;font-size:26px;line-height:26px;font-weight:400;color:#ffffff;transform:scaleX(0.9431)">3,50%</div>
<div class="t " style="left:76.30px;top:791.00px;font-size:25.5px;line-height:25.5px;font-weight:700;color:#ffffff;transform:scaleX(0.9621)">Total de Lojas</div>
<div class="t " style="left:793.99px;top:789.30px;font-size:26px;line-height:26px;font-weight:700;color:#ffffff;transform:scaleX(1.0064)">38.139</div>
<div class="t " style="left:894.31px;top:789.30px;font-size:26px;line-height:26px;font-weight:700;color:#ffffff;transform:scaleX(1.0859)">39.589</div>
<div class="t " style="left:1007.20px;top:789.30px;font-size:26px;line-height:26px;font-weight:700;color:#ffffff;transform:scaleX(0.9494)">41.136</div>
<div class="t " style="left:1109.92px;top:789.30px;font-size:26px;line-height:26px;font-weight:700;color:#ffffff;transform:scaleX(1.0833)">50.856</div>
<div class="t " style="left:1275.25px;top:789.30px;font-size:26px;line-height:26px;font-weight:700;color:#ffffff;transform:scaleX(0.9542)">3,91%</div>
<div class="t " style="left:74.30px;top:875.70px;font-size:25.5px;line-height:25.5px;font-weight:700;color:#ffffff;transform:scaleX(1.0000)">Hospitais</div>
<div class="t " style="left:76.30px;top:905.40px;font-size:25.5px;line-height:25.5px;font-weight:700;color:#ffffff;transform:scaleX(1.0007)">Veterinários</div>
<div class="t " style="left:328.17px;top:869.80px;font-size:19px;line-height:19px;font-weight:400;color:#ffffff;transform:scaleX(1.0255)">Cobertura do mix 30%</div>
<div class="t " style="left:328.17px;top:893.70px;font-size:19px;line-height:19px;font-weight:400;color:#ffffff;transform:scaleX(1.0266)">Faturamento Mensal: R$400.000 até R$750.000</div>
<div class="t " style="left:329.20px;top:917.60px;font-size:19px;line-height:19px;font-weight:400;color:#ffffff;transform:scaleX(1.0191)">Acima de 10 funcionários (Somente Hosp. Vets.)</div>
<div class="t " style="left:828.76px;top:887.60px;font-size:26px;line-height:26px;font-weight:400;color:#ffffff;transform:scaleX(1.0405)">928</div>
<div class="t " style="left:923.22px;top:887.60px;font-size:26px;line-height:26px;font-weight:400;color:#ffffff;transform:scaleX(0.8887)">1.124</div>
<div class="t " style="left:1019.75px;top:887.60px;font-size:26px;line-height:26px;font-weight:400;color:#ffffff;transform:scaleX(0.9758)">1.290</div>
<div class="t " style="left:1133.98px;top:887.60px;font-size:26px;line-height:26px;font-weight:400;color:#ffffff;transform:scaleX(0.9613)">1.370</div>
<div class="t " style="left:1264.55px;top:887.60px;font-size:26px;line-height:26px;font-weight:400;color:#ffffff;transform:scaleX(0.9235)">14,77%</div>
<div class="t para" style="left:1412.58px;top:315.90px;font-size:24px;line-height:24px;font-weight:400;color:#ffffff;transform:scaleX(1.0607)">Em 2023, o varejo pet especializado</div>
<div class="t para" style="left:1413.64px;top:349.90px;font-size:24px;line-height:24px;font-weight:400;color:#ffffff;transform:scaleX(1.0617)">contava com aproximadamente de</div>
<div class="t para" style="left:1413.64px;top:383.90px;font-size:24px;line-height:24px;font-weight:400;color:#ffffff;transform:scaleX(1.0593)">50,8 mil estabelecimentos no Brasil.</div>
<div class="t para" style="left:1412.59px;top:417.90px;font-size:24px;line-height:24px;font-weight:400;color:#ffffff;transform:scaleX(1.0532)">Dentre esses, a maior parte está na</div>
<div class="t para" style="left:1413.64px;top:451.90px;font-size:24px;line-height:24px;font-weight:400;color:#ffffff;transform:scaleX(1.0564)">categoria de Pet Shop Loja de</div>
<div class="t para" style="left:1414.70px;top:485.90px;font-size:24px;line-height:24px;font-weight:400;color:#ffffff;transform:scaleX(1.0491)">Vizinhança (80%), que se caracteriza</div>
<div class="t para" style="left:1413.63px;top:519.90px;font-size:24px;line-height:24px;font-weight:400;color:#ffffff;transform:scaleX(1.0706)">por apresentar faturamento médio de</div>
<div class="t para" style="left:1412.61px;top:553.90px;font-size:24px;line-height:24px;font-weight:400;color:#ffffff;transform:scaleX(1.0431)">R$ 60 mil a R$ 100 mil, possuir até</div>
<div class="t para" style="left:1413.64px;top:587.90px;font-size:24px;line-height:24px;font-weight:400;color:#ffffff;transform:scaleX(1.0636)">quatro funcionários, e oferecer cerca</div>
<div class="t para" style="left:1413.63px;top:621.90px;font-size:24px;line-height:24px;font-weight:400;color:#ffffff;transform:scaleX(1.0672)">de 30% de cobertura do mix de</div>
<div class="t para" style="left:1413.63px;top:655.90px;font-size:24px;line-height:24px;font-weight:400;color:#ffffff;transform:scaleX(1.0698)">produtos pet. Destaca-se ainda que</div>
<div class="t para" style="left:1413.65px;top:689.90px;font-size:24px;line-height:24px;font-weight:400;color:#ffffff;transform:scaleX(1.0534)">as Mega Stores Nacionais registraram</div>
<div class="t para" style="left:1413.65px;top:723.90px;font-size:24px;line-height:24px;font-weight:400;color:#ffffff;transform:scaleX(1.0485)">o maior crescimento em relação a</div>
<div class="t para" style="left:1413.65px;top:757.90px;font-size:24px;line-height:24px;font-weight:400;color:#ffffff;transform:scaleX(1.0462)">2022, com alta de 19%.</div>
<div class="t para" style="left:1414.70px;top:825.90px;font-size:24px;line-height:24px;font-weight:400;color:#ffffff;transform:scaleX(1.0557)">A tabela apresenta ainda o número de</div>
<div class="t para" style="left:1412.56px;top:859.90px;font-size:24px;line-height:24px;font-weight:400;color:#ffffff;transform:scaleX(1.0691)">hospitais veterinários, que em 2023</div>
<div class="t para" style="left:1413.66px;top:893.90px;font-size:24px;line-height:24px;font-weight:400;color:#ffffff;transform:scaleX(1.0353)">somavam cerca de 1,3 mil</div>
<div class="t para" style="left:1413.62px;top:927.90px;font-size:24px;line-height:24px;font-weight:400;color:#ffffff;transform:scaleX(1.0763)">estabelecimentos.</div>
<div class="t " style="left:363.18px;top:972.80px;font-size:16px;line-height:16px;font-weight:400;color:#6f6f6f;transform:scaleX(1.0154)"><b>Fonte:</b> Instituto Pet Brasil, CFMV, ABRAS e RAIS <b>|</b> <b>Divulgação em Parceria:</b> ABINPET.</div>
</body></html>
